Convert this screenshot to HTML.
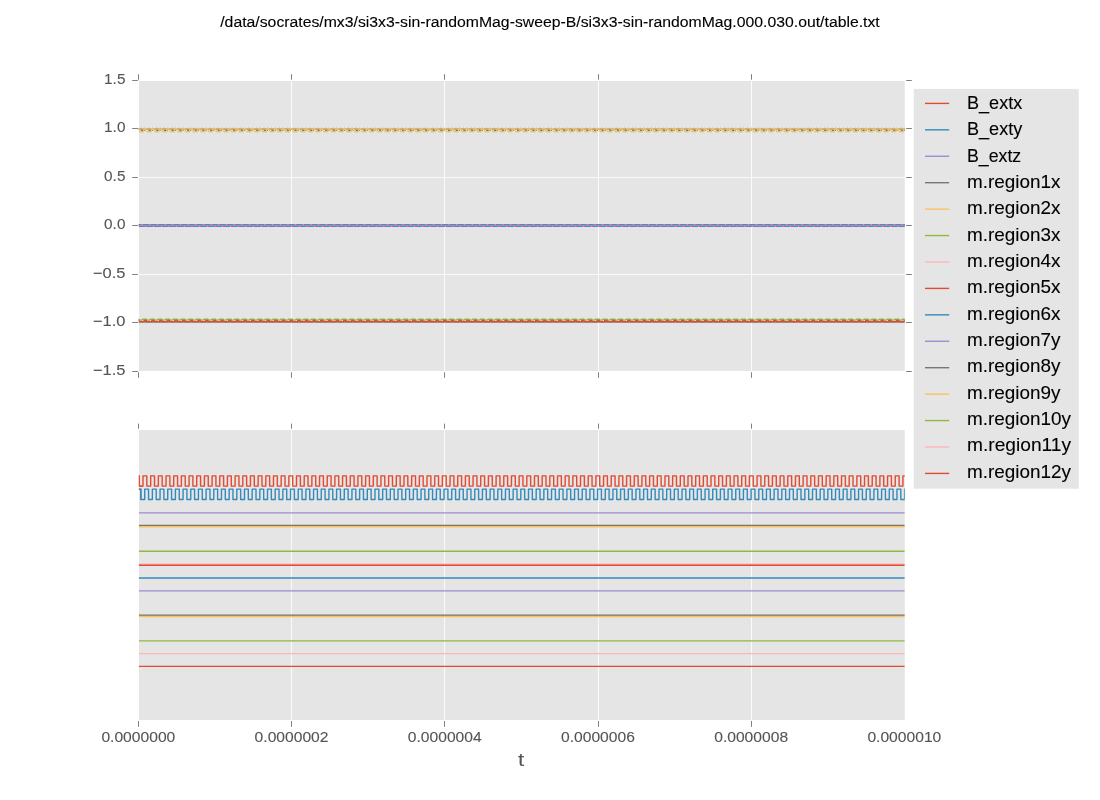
<!DOCTYPE html>
<html><head><meta charset="utf-8"><style>
html,body{margin:0;padding:0;background:#fff;width:1100px;height:800px;overflow:hidden}
svg{display:block;font-family:"Liberation Sans", sans-serif;will-change:transform}
</style></head><body>
<svg width="1100" height="800" viewBox="0 0 1100 800">
<defs>
<clipPath id="clipTop"><rect x="138.75" y="81.0" width="766.0" height="289.9"/></clipPath>
<clipPath id="clipBot"><rect x="138.75" y="430.0" width="766.0" height="290.0"/></clipPath>
</defs>
<rect x="0" y="0" width="1100" height="800" fill="#fff"/>
<text x="550.00" y="26.75" font-size="14.44" text-anchor="middle" fill="#000" textLength="659.52" lengthAdjust="spacingAndGlyphs" stroke="#000" stroke-width="0.1">/data/socrates/mx3/si3x3-sin-randomMag-sweep-B/si3x3-sin-randomMag.000.030.out/table.txt</text>
<rect x="139" y="81.00" width="765.75" height="289.90" fill="#E5E5E5"/>
<line x1="291.5" y1="81.0" x2="291.5" y2="370.9" stroke="#fff" stroke-width="0.8"/>
<line x1="444.5" y1="81.0" x2="444.5" y2="370.9" stroke="#fff" stroke-width="0.8"/>
<line x1="598.5" y1="81.0" x2="598.5" y2="370.9" stroke="#fff" stroke-width="0.8"/>
<line x1="751.5" y1="81.0" x2="751.5" y2="370.9" stroke="#fff" stroke-width="0.8"/>
<line x1="138.75" y1="128.5" x2="904.75" y2="128.5" stroke="#fff" stroke-width="0.8"/>
<line x1="138.75" y1="177.5" x2="904.75" y2="177.5" stroke="#fff" stroke-width="0.8"/>
<line x1="138.75" y1="225.5" x2="904.75" y2="225.5" stroke="#fff" stroke-width="0.8"/>
<line x1="138.75" y1="274.5" x2="904.75" y2="274.5" stroke="#fff" stroke-width="0.8"/>
<line x1="138.75" y1="322.5" x2="904.75" y2="322.5" stroke="#fff" stroke-width="0.8"/>
<g clip-path="url(#clipTop)">
<polyline points="119.97,226.40 119.97,224.60 123.81,224.60 123.81,226.40 127.65,226.40 127.65,224.60 131.49,224.60 131.49,226.40 135.32,226.40 135.32,224.60 139.16,224.60 139.16,226.40 143.00,226.40 143.00,224.60 146.84,224.60 146.84,226.40 150.68,226.40 150.68,224.60 154.51,224.60 154.51,226.40 158.35,226.40 158.35,224.60 162.19,224.60 162.19,226.40 166.03,226.40 166.03,224.60 169.87,224.60 169.87,226.40 173.70,226.40 173.70,224.60 177.54,224.60 177.54,226.40 181.38,226.40 181.38,224.60 185.22,224.60 185.22,226.40 189.06,226.40 189.06,224.60 192.89,224.60 192.89,226.40 196.73,226.40 196.73,224.60 200.57,224.60 200.57,226.40 204.41,226.40 204.41,224.60 208.25,224.60 208.25,226.40 212.08,226.40 212.08,224.60 215.92,224.60 215.92,226.40 219.76,226.40 219.76,224.60 223.60,224.60 223.60,226.40 227.44,226.40 227.44,224.60 231.27,224.60 231.27,226.40 235.11,226.40 235.11,224.60 238.95,224.60 238.95,226.40 242.79,226.40 242.79,224.60 246.63,224.60 246.63,226.40 250.46,226.40 250.46,224.60 254.30,224.60 254.30,226.40 258.14,226.40 258.14,224.60 261.98,224.60 261.98,226.40 265.82,226.40 265.82,224.60 269.65,224.60 269.65,226.40 273.49,226.40 273.49,224.60 277.33,224.60 277.33,226.40 281.17,226.40 281.17,224.60 285.01,224.60 285.01,226.40 288.84,226.40 288.84,224.60 292.68,224.60 292.68,226.40 296.52,226.40 296.52,224.60 300.36,224.60 300.36,226.40 304.20,226.40 304.20,224.60 308.03,224.60 308.03,226.40 311.87,226.40 311.87,224.60 315.71,224.60 315.71,226.40 319.55,226.40 319.55,224.60 323.39,224.60 323.39,226.40 327.22,226.40 327.22,224.60 331.06,224.60 331.06,226.40 334.90,226.40 334.90,224.60 338.74,224.60 338.74,226.40 342.58,226.40 342.58,224.60 346.41,224.60 346.41,226.40 350.25,226.40 350.25,224.60 354.09,224.60 354.09,226.40 357.93,226.40 357.93,224.60 361.77,224.60 361.77,226.40 365.60,226.40 365.60,224.60 369.44,224.60 369.44,226.40 373.28,226.40 373.28,224.60 377.12,224.60 377.12,226.40 380.96,226.40 380.96,224.60 384.79,224.60 384.79,226.40 388.63,226.40 388.63,224.60 392.47,224.60 392.47,226.40 396.31,226.40 396.31,224.60 400.15,224.60 400.15,226.40 403.98,226.40 403.98,224.60 407.82,224.60 407.82,226.40 411.66,226.40 411.66,224.60 415.50,224.60 415.50,226.40 419.34,226.40 419.34,224.60 423.17,224.60 423.17,226.40 427.01,226.40 427.01,224.60 430.85,224.60 430.85,226.40 434.69,226.40 434.69,224.60 438.53,224.60 438.53,226.40 442.36,226.40 442.36,224.60 446.20,224.60 446.20,226.40 450.04,226.40 450.04,224.60 453.88,224.60 453.88,226.40 457.72,226.40 457.72,224.60 461.55,224.60 461.55,226.40 465.39,226.40 465.39,224.60 469.23,224.60 469.23,226.40 473.07,226.40 473.07,224.60 476.91,224.60 476.91,226.40 480.74,226.40 480.74,224.60 484.58,224.60 484.58,226.40 488.42,226.40 488.42,224.60 492.26,224.60 492.26,226.40 496.10,226.40 496.10,224.60 499.93,224.60 499.93,226.40 503.77,226.40 503.77,224.60 507.61,224.60 507.61,226.40 511.45,226.40 511.45,224.60 515.29,224.60 515.29,226.40 519.12,226.40 519.12,224.60 522.96,224.60 522.96,226.40 526.80,226.40 526.80,224.60 530.64,224.60 530.64,226.40 534.48,226.40 534.48,224.60 538.31,224.60 538.31,226.40 542.15,226.40 542.15,224.60 545.99,224.60 545.99,226.40 549.83,226.40 549.83,224.60 553.67,224.60 553.67,226.40 557.50,226.40 557.50,224.60 561.34,224.60 561.34,226.40 565.18,226.40 565.18,224.60 569.02,224.60 569.02,226.40 572.86,226.40 572.86,224.60 576.69,224.60 576.69,226.40 580.53,226.40 580.53,224.60 584.37,224.60 584.37,226.40 588.21,226.40 588.21,224.60 592.05,224.60 592.05,226.40 595.88,226.40 595.88,224.60 599.72,224.60 599.72,226.40 603.56,226.40 603.56,224.60 607.40,224.60 607.40,226.40 611.24,226.40 611.24,224.60 615.07,224.60 615.07,226.40 618.91,226.40 618.91,224.60 622.75,224.60 622.75,226.40 626.59,226.40 626.59,224.60 630.43,224.60 630.43,226.40 634.26,226.40 634.26,224.60 638.10,224.60 638.10,226.40 641.94,226.40 641.94,224.60 645.78,224.60 645.78,226.40 649.62,226.40 649.62,224.60 653.45,224.60 653.45,226.40 657.29,226.40 657.29,224.60 661.13,224.60 661.13,226.40 664.97,226.40 664.97,224.60 668.81,224.60 668.81,226.40 672.64,226.40 672.64,224.60 676.48,224.60 676.48,226.40 680.32,226.40 680.32,224.60 684.16,224.60 684.16,226.40 688.00,226.40 688.00,224.60 691.83,224.60 691.83,226.40 695.67,226.40 695.67,224.60 699.51,224.60 699.51,226.40 703.35,226.40 703.35,224.60 707.19,224.60 707.19,226.40 711.02,226.40 711.02,224.60 714.86,224.60 714.86,226.40 718.70,226.40 718.70,224.60 722.54,224.60 722.54,226.40 726.38,226.40 726.38,224.60 730.21,224.60 730.21,226.40 734.05,226.40 734.05,224.60 737.89,224.60 737.89,226.40 741.73,226.40 741.73,224.60 745.57,224.60 745.57,226.40 749.40,226.40 749.40,224.60 753.24,224.60 753.24,226.40 757.08,226.40 757.08,224.60 760.92,224.60 760.92,226.40 764.76,226.40 764.76,224.60 768.59,224.60 768.59,226.40 772.43,226.40 772.43,224.60 776.27,224.60 776.27,226.40 780.11,226.40 780.11,224.60 783.95,224.60 783.95,226.40 787.78,226.40 787.78,224.60 791.62,224.60 791.62,226.40 795.46,226.40 795.46,224.60 799.30,224.60 799.30,226.40 803.14,226.40 803.14,224.60 806.97,224.60 806.97,226.40 810.81,226.40 810.81,224.60 814.65,224.60 814.65,226.40 818.49,226.40 818.49,224.60 822.33,224.60 822.33,226.40 826.16,226.40 826.16,224.60 830.00,224.60 830.00,226.40 833.84,226.40 833.84,224.60 837.68,224.60 837.68,226.40 841.52,226.40 841.52,224.60 845.35,224.60 845.35,226.40 849.19,226.40 849.19,224.60 853.03,224.60 853.03,226.40 856.87,226.40 856.87,224.60 860.71,224.60 860.71,226.40 864.54,226.40 864.54,224.60 868.38,224.60 868.38,226.40 872.22,226.40 872.22,224.60 876.06,224.60 876.06,226.40 879.90,226.40 879.90,224.60 883.73,224.60 883.73,226.40 887.57,226.40 887.57,224.60 891.41,224.60 891.41,226.40 895.25,226.40 895.25,224.60 899.09,224.60 899.09,226.40 902.92,226.40 902.92,224.60 906.76,224.60 906.76,226.40 910.60,226.40 910.60,224.60 914.44,224.60 914.44,226.40" fill="none" stroke="#E24A33" stroke-width="1.4" stroke-linejoin="round"/>
<polyline points="122.04,226.40 122.04,224.60 125.88,224.60 125.88,226.40 129.72,226.40 129.72,224.60 133.56,224.60 133.56,226.40 137.40,226.40 137.40,224.60 141.23,224.60 141.23,226.40 145.07,226.40 145.07,224.60 148.91,224.60 148.91,226.40 152.75,226.40 152.75,224.60 156.59,224.60 156.59,226.40 160.42,226.40 160.42,224.60 164.26,224.60 164.26,226.40 168.10,226.40 168.10,224.60 171.94,224.60 171.94,226.40 175.78,226.40 175.78,224.60 179.61,224.60 179.61,226.40 183.45,226.40 183.45,224.60 187.29,224.60 187.29,226.40 191.13,226.40 191.13,224.60 194.97,224.60 194.97,226.40 198.80,226.40 198.80,224.60 202.64,224.60 202.64,226.40 206.48,226.40 206.48,224.60 210.32,224.60 210.32,226.40 214.16,226.40 214.16,224.60 217.99,224.60 217.99,226.40 221.83,226.40 221.83,224.60 225.67,224.60 225.67,226.40 229.51,226.40 229.51,224.60 233.35,224.60 233.35,226.40 237.18,226.40 237.18,224.60 241.02,224.60 241.02,226.40 244.86,226.40 244.86,224.60 248.70,224.60 248.70,226.40 252.54,226.40 252.54,224.60 256.37,224.60 256.37,226.40 260.21,226.40 260.21,224.60 264.05,224.60 264.05,226.40 267.89,226.40 267.89,224.60 271.73,224.60 271.73,226.40 275.56,226.40 275.56,224.60 279.40,224.60 279.40,226.40 283.24,226.40 283.24,224.60 287.08,224.60 287.08,226.40 290.92,226.40 290.92,224.60 294.75,224.60 294.75,226.40 298.59,226.40 298.59,224.60 302.43,224.60 302.43,226.40 306.27,226.40 306.27,224.60 310.11,224.60 310.11,226.40 313.94,226.40 313.94,224.60 317.78,224.60 317.78,226.40 321.62,226.40 321.62,224.60 325.46,224.60 325.46,226.40 329.30,226.40 329.30,224.60 333.13,224.60 333.13,226.40 336.97,226.40 336.97,224.60 340.81,224.60 340.81,226.40 344.65,226.40 344.65,224.60 348.49,224.60 348.49,226.40 352.32,226.40 352.32,224.60 356.16,224.60 356.16,226.40 360.00,226.40 360.00,224.60 363.84,224.60 363.84,226.40 367.68,226.40 367.68,224.60 371.51,224.60 371.51,226.40 375.35,226.40 375.35,224.60 379.19,224.60 379.19,226.40 383.03,226.40 383.03,224.60 386.87,224.60 386.87,226.40 390.70,226.40 390.70,224.60 394.54,224.60 394.54,226.40 398.38,226.40 398.38,224.60 402.22,224.60 402.22,226.40 406.06,226.40 406.06,224.60 409.89,224.60 409.89,226.40 413.73,226.40 413.73,224.60 417.57,224.60 417.57,226.40 421.41,226.40 421.41,224.60 425.25,224.60 425.25,226.40 429.08,226.40 429.08,224.60 432.92,224.60 432.92,226.40 436.76,226.40 436.76,224.60 440.60,224.60 440.60,226.40 444.44,226.40 444.44,224.60 448.27,224.60 448.27,226.40 452.11,226.40 452.11,224.60 455.95,224.60 455.95,226.40 459.79,226.40 459.79,224.60 463.63,224.60 463.63,226.40 467.46,226.40 467.46,224.60 471.30,224.60 471.30,226.40 475.14,226.40 475.14,224.60 478.98,224.60 478.98,226.40 482.82,226.40 482.82,224.60 486.65,224.60 486.65,226.40 490.49,226.40 490.49,224.60 494.33,224.60 494.33,226.40 498.17,226.40 498.17,224.60 502.01,224.60 502.01,226.40 505.84,226.40 505.84,224.60 509.68,224.60 509.68,226.40 513.52,226.40 513.52,224.60 517.36,224.60 517.36,226.40 521.20,226.40 521.20,224.60 525.03,224.60 525.03,226.40 528.87,226.40 528.87,224.60 532.71,224.60 532.71,226.40 536.55,226.40 536.55,224.60 540.39,224.60 540.39,226.40 544.22,226.40 544.22,224.60 548.06,224.60 548.06,226.40 551.90,226.40 551.90,224.60 555.74,224.60 555.74,226.40 559.58,226.40 559.58,224.60 563.41,224.60 563.41,226.40 567.25,226.40 567.25,224.60 571.09,224.60 571.09,226.40 574.93,226.40 574.93,224.60 578.77,224.60 578.77,226.40 582.60,226.40 582.60,224.60 586.44,224.60 586.44,226.40 590.28,226.40 590.28,224.60 594.12,224.60 594.12,226.40 597.96,226.40 597.96,224.60 601.79,224.60 601.79,226.40 605.63,226.40 605.63,224.60 609.47,224.60 609.47,226.40 613.31,226.40 613.31,224.60 617.15,224.60 617.15,226.40 620.98,226.40 620.98,224.60 624.82,224.60 624.82,226.40 628.66,226.40 628.66,224.60 632.50,224.60 632.50,226.40 636.34,226.40 636.34,224.60 640.17,224.60 640.17,226.40 644.01,226.40 644.01,224.60 647.85,224.60 647.85,226.40 651.69,226.40 651.69,224.60 655.53,224.60 655.53,226.40 659.36,226.40 659.36,224.60 663.20,224.60 663.20,226.40 667.04,226.40 667.04,224.60 670.88,224.60 670.88,226.40 674.72,226.40 674.72,224.60 678.55,224.60 678.55,226.40 682.39,226.40 682.39,224.60 686.23,224.60 686.23,226.40 690.07,226.40 690.07,224.60 693.91,224.60 693.91,226.40 697.74,226.40 697.74,224.60 701.58,224.60 701.58,226.40 705.42,226.40 705.42,224.60 709.26,224.60 709.26,226.40 713.10,226.40 713.10,224.60 716.93,224.60 716.93,226.40 720.77,226.40 720.77,224.60 724.61,224.60 724.61,226.40 728.45,226.40 728.45,224.60 732.29,224.60 732.29,226.40 736.12,226.40 736.12,224.60 739.96,224.60 739.96,226.40 743.80,226.40 743.80,224.60 747.64,224.60 747.64,226.40 751.48,226.40 751.48,224.60 755.31,224.60 755.31,226.40 759.15,226.40 759.15,224.60 762.99,224.60 762.99,226.40 766.83,226.40 766.83,224.60 770.67,224.60 770.67,226.40 774.50,226.40 774.50,224.60 778.34,224.60 778.34,226.40 782.18,226.40 782.18,224.60 786.02,224.60 786.02,226.40 789.86,226.40 789.86,224.60 793.69,224.60 793.69,226.40 797.53,226.40 797.53,224.60 801.37,224.60 801.37,226.40 805.21,226.40 805.21,224.60 809.05,224.60 809.05,226.40 812.88,226.40 812.88,224.60 816.72,224.60 816.72,226.40 820.56,226.40 820.56,224.60 824.40,224.60 824.40,226.40 828.24,226.40 828.24,224.60 832.07,224.60 832.07,226.40 835.91,226.40 835.91,224.60 839.75,224.60 839.75,226.40 843.59,226.40 843.59,224.60 847.43,224.60 847.43,226.40 851.26,226.40 851.26,224.60 855.10,224.60 855.10,226.40 858.94,226.40 858.94,224.60 862.78,224.60 862.78,226.40 866.62,226.40 866.62,224.60 870.45,224.60 870.45,226.40 874.29,226.40 874.29,224.60 878.13,224.60 878.13,226.40 881.97,226.40 881.97,224.60 885.81,224.60 885.81,226.40 889.64,226.40 889.64,224.60 893.48,224.60 893.48,226.40 897.32,226.40 897.32,224.60 901.16,224.60 901.16,226.40 905.00,226.40 905.00,224.60 908.83,224.60 908.83,226.40 912.67,226.40 912.67,224.60 916.51,224.60 916.51,226.40" fill="none" stroke="#348ABD" stroke-width="1.4" stroke-linejoin="round"/>
<line x1="138.75" y1="225.5" x2="904.75" y2="225.5" stroke="#988ED5" stroke-width="1.4"/>
<polyline points="121.35,128.90 121.35,128.10 122.12,128.10 122.12,128.90 125.50,128.90 125.50,128.10 126.27,128.10 126.27,128.90 129.03,128.90 129.03,128.10 129.80,128.10 129.80,128.90 133.17,128.90 133.17,128.10 133.94,128.10 133.94,128.90 136.71,128.90 136.71,128.10 137.47,128.10 137.47,128.90 140.85,128.90 140.85,128.10 141.62,128.10 141.62,128.90 144.38,128.90 144.38,128.10 145.15,128.10 145.15,128.90 148.53,128.90 148.53,128.10 149.29,128.10 149.29,128.90 152.06,128.90 152.06,128.10 152.83,128.10 152.83,128.90 156.20,128.90 156.20,128.10 156.97,128.10 156.97,128.90 159.73,128.90 159.73,128.10 160.50,128.10 160.50,128.90 163.88,128.90 163.88,128.10 164.65,128.10 164.65,128.90 167.41,128.90 167.41,128.10 168.18,128.10 168.18,128.90 171.55,128.90 171.55,128.10 172.32,128.10 172.32,128.90 175.09,128.90 175.09,128.10 175.85,128.10 175.85,128.90 179.23,128.90 179.23,128.10 180.00,128.10 180.00,128.90 182.76,128.90 182.76,128.10 183.53,128.10 183.53,128.90 186.91,128.90 186.91,128.10 187.67,128.10 187.67,128.90 190.44,128.90 190.44,128.10 191.21,128.10 191.21,128.90 194.58,128.90 194.58,128.10 195.35,128.10 195.35,128.90 198.11,128.90 198.11,128.10 198.88,128.10 198.88,128.90 202.26,128.90 202.26,128.10 203.03,128.10 203.03,128.90 205.79,128.90 205.79,128.10 206.56,128.10 206.56,128.90 209.93,128.90 209.93,128.10 210.70,128.10 210.70,128.90 213.47,128.90 213.47,128.10 214.23,128.10 214.23,128.90 217.61,128.90 217.61,128.10 218.38,128.10 218.38,128.90 221.14,128.90 221.14,128.10 221.91,128.10 221.91,128.90 225.29,128.90 225.29,128.10 226.05,128.10 226.05,128.90 228.82,128.90 228.82,128.10 229.59,128.10 229.59,128.90 232.96,128.90 232.96,128.10 233.73,128.10 233.73,128.90 236.49,128.90 236.49,128.10 237.26,128.10 237.26,128.90 240.64,128.90 240.64,128.10 241.41,128.10 241.41,128.90 244.17,128.90 244.17,128.10 244.94,128.10 244.94,128.90 248.31,128.90 248.31,128.10 249.08,128.10 249.08,128.90 251.85,128.90 251.85,128.10 252.61,128.10 252.61,128.90 255.99,128.90 255.99,128.10 256.76,128.10 256.76,128.90 259.52,128.90 259.52,128.10 260.29,128.10 260.29,128.90 263.67,128.90 263.67,128.10 264.43,128.10 264.43,128.90 267.20,128.90 267.20,128.10 267.97,128.10 267.97,128.90 271.34,128.90 271.34,128.10 272.11,128.10 272.11,128.90 274.87,128.90 274.87,128.10 275.64,128.10 275.64,128.90 279.02,128.90 279.02,128.10 279.79,128.10 279.79,128.90 282.55,128.90 282.55,128.10 283.32,128.10 283.32,128.90 286.69,128.90 286.69,128.10 287.46,128.10 287.46,128.90 290.23,128.90 290.23,128.10 290.99,128.10 290.99,128.90 294.37,128.90 294.37,128.10 295.14,128.10 295.14,128.90 297.90,128.90 297.90,128.10 298.67,128.10 298.67,128.90 302.05,128.90 302.05,128.10 302.81,128.10 302.81,128.90 305.58,128.90 305.58,128.10 306.35,128.10 306.35,128.90 309.72,128.90 309.72,128.10 310.49,128.10 310.49,128.90 313.25,128.90 313.25,128.10 314.02,128.10 314.02,128.90 317.40,128.90 317.40,128.10 318.17,128.10 318.17,128.90 320.93,128.90 320.93,128.10 321.70,128.10 321.70,128.90 325.07,128.90 325.07,128.10 325.84,128.10 325.84,128.90 328.61,128.90 328.61,128.10 329.37,128.10 329.37,128.90 332.75,128.90 332.75,128.10 333.52,128.10 333.52,128.90 336.28,128.90 336.28,128.10 337.05,128.10 337.05,128.90 340.43,128.90 340.43,128.10 341.19,128.10 341.19,128.90 343.96,128.90 343.96,128.10 344.73,128.10 344.73,128.90 348.10,128.90 348.10,128.10 348.87,128.10 348.87,128.90 351.63,128.90 351.63,128.10 352.40,128.10 352.40,128.90 355.78,128.90 355.78,128.10 356.55,128.10 356.55,128.90 359.31,128.90 359.31,128.10 360.08,128.10 360.08,128.90 363.45,128.90 363.45,128.10 364.22,128.10 364.22,128.90 366.99,128.90 366.99,128.10 367.75,128.10 367.75,128.90 371.13,128.90 371.13,128.10 371.90,128.10 371.90,128.90 374.66,128.90 374.66,128.10 375.43,128.10 375.43,128.90 378.81,128.90 378.81,128.10 379.57,128.10 379.57,128.90 382.34,128.90 382.34,128.10 383.11,128.10 383.11,128.90 386.48,128.90 386.48,128.10 387.25,128.10 387.25,128.90 390.01,128.90 390.01,128.10 390.78,128.10 390.78,128.90 394.16,128.90 394.16,128.10 394.93,128.10 394.93,128.90 397.69,128.90 397.69,128.10 398.46,128.10 398.46,128.90 401.83,128.90 401.83,128.10 402.60,128.10 402.60,128.90 405.37,128.90 405.37,128.10 406.13,128.10 406.13,128.90 409.51,128.90 409.51,128.10 410.28,128.10 410.28,128.90 413.04,128.90 413.04,128.10 413.81,128.10 413.81,128.90 417.19,128.90 417.19,128.10 417.95,128.10 417.95,128.90 420.72,128.90 420.72,128.10 421.49,128.10 421.49,128.90 424.86,128.90 424.86,128.10 425.63,128.10 425.63,128.90 428.39,128.90 428.39,128.10 429.16,128.10 429.16,128.90 432.54,128.90 432.54,128.10 433.31,128.10 433.31,128.90 436.07,128.90 436.07,128.10 436.84,128.10 436.84,128.90 440.21,128.90 440.21,128.10 440.98,128.10 440.98,128.90 443.75,128.90 443.75,128.10 444.51,128.10 444.51,128.90 447.89,128.90 447.89,128.10 448.66,128.10 448.66,128.90 451.42,128.90 451.42,128.10 452.19,128.10 452.19,128.90 455.57,128.90 455.57,128.10 456.33,128.10 456.33,128.90 459.10,128.90 459.10,128.10 459.87,128.10 459.87,128.90 463.24,128.90 463.24,128.10 464.01,128.10 464.01,128.90 466.77,128.90 466.77,128.10 467.54,128.10 467.54,128.90 470.92,128.90 470.92,128.10 471.69,128.10 471.69,128.90 474.45,128.90 474.45,128.10 475.22,128.10 475.22,128.90 478.59,128.90 478.59,128.10 479.36,128.10 479.36,128.90 482.13,128.90 482.13,128.10 482.89,128.10 482.89,128.90 486.27,128.90 486.27,128.10 487.04,128.10 487.04,128.90 489.80,128.90 489.80,128.10 490.57,128.10 490.57,128.90 493.95,128.90 493.95,128.10 494.71,128.10 494.71,128.90 497.48,128.90 497.48,128.10 498.25,128.10 498.25,128.90 501.62,128.90 501.62,128.10 502.39,128.10 502.39,128.90 505.15,128.90 505.15,128.10 505.92,128.10 505.92,128.90 509.30,128.90 509.30,128.10 510.07,128.10 510.07,128.90 512.83,128.90 512.83,128.10 513.60,128.10 513.60,128.90 516.97,128.90 516.97,128.10 517.74,128.10 517.74,128.90 520.51,128.90 520.51,128.10 521.27,128.10 521.27,128.90 524.65,128.90 524.65,128.10 525.42,128.10 525.42,128.90 528.18,128.90 528.18,128.10 528.95,128.10 528.95,128.90 532.33,128.90 532.33,128.10 533.09,128.10 533.09,128.90 535.86,128.90 535.86,128.10 536.63,128.10 536.63,128.90 540.00,128.90 540.00,128.10 540.77,128.10 540.77,128.90 543.53,128.90 543.53,128.10 544.30,128.10 544.30,128.90 547.68,128.90 547.68,128.10 548.45,128.10 548.45,128.90 551.21,128.90 551.21,128.10 551.98,128.10 551.98,128.90 555.35,128.90 555.35,128.10 556.12,128.10 556.12,128.90 558.89,128.90 558.89,128.10 559.65,128.10 559.65,128.90 563.03,128.90 563.03,128.10 563.80,128.10 563.80,128.90 566.56,128.90 566.56,128.10 567.33,128.10 567.33,128.90 570.71,128.90 570.71,128.10 571.47,128.10 571.47,128.90 574.24,128.90 574.24,128.10 575.01,128.10 575.01,128.90 578.38,128.90 578.38,128.10 579.15,128.10 579.15,128.90 581.91,128.90 581.91,128.10 582.68,128.10 582.68,128.90 586.06,128.90 586.06,128.10 586.83,128.10 586.83,128.90 589.59,128.90 589.59,128.10 590.36,128.10 590.36,128.90 593.73,128.90 593.73,128.10 594.50,128.10 594.50,128.90 597.27,128.90 597.27,128.10 598.03,128.10 598.03,128.90 601.41,128.90 601.41,128.10 602.18,128.10 602.18,128.90 604.94,128.90 604.94,128.10 605.71,128.10 605.71,128.90 609.09,128.90 609.09,128.10 609.85,128.10 609.85,128.90 612.62,128.90 612.62,128.10 613.39,128.10 613.39,128.90 616.76,128.90 616.76,128.10 617.53,128.10 617.53,128.90 620.29,128.90 620.29,128.10 621.06,128.10 621.06,128.90 624.44,128.90 624.44,128.10 625.21,128.10 625.21,128.90 627.97,128.90 627.97,128.10 628.74,128.10 628.74,128.90 632.11,128.90 632.11,128.10 632.88,128.10 632.88,128.90 635.65,128.90 635.65,128.10 636.41,128.10 636.41,128.90 639.79,128.90 639.79,128.10 640.56,128.10 640.56,128.90 643.32,128.90 643.32,128.10 644.09,128.10 644.09,128.90 647.47,128.90 647.47,128.10 648.23,128.10 648.23,128.90 651.00,128.90 651.00,128.10 651.77,128.10 651.77,128.90 655.14,128.90 655.14,128.10 655.91,128.10 655.91,128.90 658.67,128.90 658.67,128.10 659.44,128.10 659.44,128.90 662.82,128.90 662.82,128.10 663.59,128.10 663.59,128.90 666.35,128.90 666.35,128.10 667.12,128.10 667.12,128.90 670.49,128.90 670.49,128.10 671.26,128.10 671.26,128.90 674.03,128.90 674.03,128.10 674.79,128.10 674.79,128.90 678.17,128.90 678.17,128.10 678.94,128.10 678.94,128.90 681.70,128.90 681.70,128.10 682.47,128.10 682.47,128.90 685.85,128.90 685.85,128.10 686.61,128.10 686.61,128.90 689.38,128.90 689.38,128.10 690.15,128.10 690.15,128.90 693.52,128.90 693.52,128.10 694.29,128.10 694.29,128.90 697.05,128.90 697.05,128.10 697.82,128.10 697.82,128.90 701.20,128.90 701.20,128.10 701.97,128.10 701.97,128.90 704.73,128.90 704.73,128.10 705.50,128.10 705.50,128.90 708.87,128.90 708.87,128.10 709.64,128.10 709.64,128.90 712.41,128.90 712.41,128.10 713.17,128.10 713.17,128.90 716.55,128.90 716.55,128.10 717.32,128.10 717.32,128.90 720.08,128.90 720.08,128.10 720.85,128.10 720.85,128.90 724.23,128.90 724.23,128.10 724.99,128.10 724.99,128.90 727.76,128.90 727.76,128.10 728.53,128.10 728.53,128.90 731.90,128.90 731.90,128.10 732.67,128.10 732.67,128.90 735.43,128.90 735.43,128.10 736.20,128.10 736.20,128.90 739.58,128.90 739.58,128.10 740.35,128.10 740.35,128.90 743.11,128.90 743.11,128.10 743.88,128.10 743.88,128.90 747.25,128.90 747.25,128.10 748.02,128.10 748.02,128.90 750.79,128.90 750.79,128.10 751.55,128.10 751.55,128.90 754.93,128.90 754.93,128.10 755.70,128.10 755.70,128.90 758.46,128.90 758.46,128.10 759.23,128.10 759.23,128.90 762.61,128.90 762.61,128.10 763.37,128.10 763.37,128.90 766.14,128.90 766.14,128.10 766.91,128.10 766.91,128.90 770.28,128.90 770.28,128.10 771.05,128.10 771.05,128.90 773.81,128.90 773.81,128.10 774.58,128.10 774.58,128.90 777.96,128.90 777.96,128.10 778.73,128.10 778.73,128.90 781.49,128.90 781.49,128.10 782.26,128.10 782.26,128.90 785.63,128.90 785.63,128.10 786.40,128.10 786.40,128.90 789.17,128.90 789.17,128.10 789.93,128.10 789.93,128.90 793.31,128.90 793.31,128.10 794.08,128.10 794.08,128.90 796.84,128.90 796.84,128.10 797.61,128.10 797.61,128.90 800.99,128.90 800.99,128.10 801.75,128.10 801.75,128.90 804.52,128.90 804.52,128.10 805.29,128.10 805.29,128.90 808.66,128.90 808.66,128.10 809.43,128.10 809.43,128.90 812.19,128.90 812.19,128.10 812.96,128.10 812.96,128.90 816.34,128.90 816.34,128.10 817.11,128.10 817.11,128.90 819.87,128.90 819.87,128.10 820.64,128.10 820.64,128.90 824.01,128.90 824.01,128.10 824.78,128.10 824.78,128.90 827.55,128.90 827.55,128.10 828.31,128.10 828.31,128.90 831.69,128.90 831.69,128.10 832.46,128.10 832.46,128.90 835.22,128.90 835.22,128.10 835.99,128.10 835.99,128.90 839.37,128.90 839.37,128.10 840.13,128.10 840.13,128.90 842.90,128.90 842.90,128.10 843.67,128.10 843.67,128.90 847.04,128.90 847.04,128.10 847.81,128.10 847.81,128.90 850.57,128.90 850.57,128.10 851.34,128.10 851.34,128.90 854.72,128.90 854.72,128.10 855.49,128.10 855.49,128.90 858.25,128.90 858.25,128.10 859.02,128.10 859.02,128.90 862.39,128.90 862.39,128.10 863.16,128.10 863.16,128.90 865.93,128.90 865.93,128.10 866.69,128.10 866.69,128.90 870.07,128.90 870.07,128.10 870.84,128.10 870.84,128.90 873.60,128.90 873.60,128.10 874.37,128.10 874.37,128.90 877.75,128.90 877.75,128.10 878.51,128.10 878.51,128.90 881.28,128.90 881.28,128.10 882.05,128.10 882.05,128.90 885.42,128.90 885.42,128.10 886.19,128.10 886.19,128.90 888.95,128.90 888.95,128.10 889.72,128.10 889.72,128.90 893.10,128.90 893.10,128.10 893.87,128.10 893.87,128.90 896.63,128.90 896.63,128.10 897.40,128.10 897.40,128.90 900.77,128.90 900.77,128.10 901.54,128.10 901.54,128.90 904.31,128.90 904.31,128.10 905.07,128.10 905.07,128.90 908.45,128.90 908.45,128.10 909.22,128.10 909.22,128.90 911.98,128.90 911.98,128.10 912.75,128.10 912.75,128.90 916.13,128.90 916.13,128.10 916.89,128.10 916.89,128.90" fill="none" stroke="#988ED5" stroke-width="1.0" stroke-linejoin="round"/>
<polyline points="123.43,128.90 123.43,129.60 124.35,129.60 124.35,128.90 131.10,128.90 131.10,129.60 132.02,129.60 132.02,128.90 138.78,128.90 138.78,129.60 139.70,129.60 139.70,128.90 146.45,128.90 146.45,129.60 147.38,129.60 147.38,128.90 154.13,128.90 154.13,129.60 155.05,129.60 155.05,128.90 161.81,128.90 161.81,129.60 162.73,129.60 162.73,128.90 169.48,128.90 169.48,129.60 170.40,129.60 170.40,128.90 177.16,128.90 177.16,129.60 178.08,129.60 178.08,128.90 184.83,128.90 184.83,129.60 185.76,129.60 185.76,128.90 192.51,128.90 192.51,129.60 193.43,129.60 193.43,128.90 200.19,128.90 200.19,129.60 201.11,129.60 201.11,128.90 207.86,128.90 207.86,129.60 208.78,129.60 208.78,128.90 215.54,128.90 215.54,129.60 216.46,129.60 216.46,128.90 223.21,128.90 223.21,129.60 224.14,129.60 224.14,128.90 230.89,128.90 230.89,129.60 231.81,129.60 231.81,128.90 238.57,128.90 238.57,129.60 239.49,129.60 239.49,128.90 246.24,128.90 246.24,129.60 247.16,129.60 247.16,128.90 253.92,128.90 253.92,129.60 254.84,129.60 254.84,128.90 261.59,128.90 261.59,129.60 262.52,129.60 262.52,128.90 269.27,128.90 269.27,129.60 270.19,129.60 270.19,128.90 276.95,128.90 276.95,129.60 277.87,129.60 277.87,128.90 284.62,128.90 284.62,129.60 285.54,129.60 285.54,128.90 292.30,128.90 292.30,129.60 293.22,129.60 293.22,128.90 299.97,128.90 299.97,129.60 300.90,129.60 300.90,128.90 307.65,128.90 307.65,129.60 308.57,129.60 308.57,128.90 315.33,128.90 315.33,129.60 316.25,129.60 316.25,128.90 323.00,128.90 323.00,129.60 323.92,129.60 323.92,128.90 330.68,128.90 330.68,129.60 331.60,129.60 331.60,128.90 338.35,128.90 338.35,129.60 339.28,129.60 339.28,128.90 346.03,128.90 346.03,129.60 346.95,129.60 346.95,128.90 353.71,128.90 353.71,129.60 354.63,129.60 354.63,128.90 361.38,128.90 361.38,129.60 362.30,129.60 362.30,128.90 369.06,128.90 369.06,129.60 369.98,129.60 369.98,128.90 376.73,128.90 376.73,129.60 377.66,129.60 377.66,128.90 384.41,128.90 384.41,129.60 385.33,129.60 385.33,128.90 392.09,128.90 392.09,129.60 393.01,129.60 393.01,128.90 399.76,128.90 399.76,129.60 400.68,129.60 400.68,128.90 407.44,128.90 407.44,129.60 408.36,129.60 408.36,128.90 415.11,128.90 415.11,129.60 416.04,129.60 416.04,128.90 422.79,128.90 422.79,129.60 423.71,129.60 423.71,128.90 430.47,128.90 430.47,129.60 431.39,129.60 431.39,128.90 438.14,128.90 438.14,129.60 439.06,129.60 439.06,128.90 445.82,128.90 445.82,129.60 446.74,129.60 446.74,128.90 453.49,128.90 453.49,129.60 454.42,129.60 454.42,128.90 461.17,128.90 461.17,129.60 462.09,129.60 462.09,128.90 468.85,128.90 468.85,129.60 469.77,129.60 469.77,128.90 476.52,128.90 476.52,129.60 477.44,129.60 477.44,128.90 484.20,128.90 484.20,129.60 485.12,129.60 485.12,128.90 491.87,128.90 491.87,129.60 492.80,129.60 492.80,128.90 499.55,128.90 499.55,129.60 500.47,129.60 500.47,128.90 507.23,128.90 507.23,129.60 508.15,129.60 508.15,128.90 514.90,128.90 514.90,129.60 515.82,129.60 515.82,128.90 522.58,128.90 522.58,129.60 523.50,129.60 523.50,128.90 530.25,128.90 530.25,129.60 531.18,129.60 531.18,128.90 537.93,128.90 537.93,129.60 538.85,129.60 538.85,128.90 545.61,128.90 545.61,129.60 546.53,129.60 546.53,128.90 553.28,128.90 553.28,129.60 554.20,129.60 554.20,128.90 560.96,128.90 560.96,129.60 561.88,129.60 561.88,128.90 568.63,128.90 568.63,129.60 569.56,129.60 569.56,128.90 576.31,128.90 576.31,129.60 577.23,129.60 577.23,128.90 583.99,128.90 583.99,129.60 584.91,129.60 584.91,128.90 591.66,128.90 591.66,129.60 592.58,129.60 592.58,128.90 599.34,128.90 599.34,129.60 600.26,129.60 600.26,128.90 607.01,128.90 607.01,129.60 607.94,129.60 607.94,128.90 614.69,128.90 614.69,129.60 615.61,129.60 615.61,128.90 622.37,128.90 622.37,129.60 623.29,129.60 623.29,128.90 630.04,128.90 630.04,129.60 630.96,129.60 630.96,128.90 637.72,128.90 637.72,129.60 638.64,129.60 638.64,128.90 645.39,128.90 645.39,129.60 646.32,129.60 646.32,128.90 653.07,128.90 653.07,129.60 653.99,129.60 653.99,128.90 660.75,128.90 660.75,129.60 661.67,129.60 661.67,128.90 668.42,128.90 668.42,129.60 669.34,129.60 669.34,128.90 676.10,128.90 676.10,129.60 677.02,129.60 677.02,128.90 683.77,128.90 683.77,129.60 684.70,129.60 684.70,128.90 691.45,128.90 691.45,129.60 692.37,129.60 692.37,128.90 699.13,128.90 699.13,129.60 700.05,129.60 700.05,128.90 706.80,128.90 706.80,129.60 707.72,129.60 707.72,128.90 714.48,128.90 714.48,129.60 715.40,129.60 715.40,128.90 722.15,128.90 722.15,129.60 723.08,129.60 723.08,128.90 729.83,128.90 729.83,129.60 730.75,129.60 730.75,128.90 737.51,128.90 737.51,129.60 738.43,129.60 738.43,128.90 745.18,128.90 745.18,129.60 746.10,129.60 746.10,128.90 752.86,128.90 752.86,129.60 753.78,129.60 753.78,128.90 760.53,128.90 760.53,129.60 761.46,129.60 761.46,128.90 768.21,128.90 768.21,129.60 769.13,129.60 769.13,128.90 775.89,128.90 775.89,129.60 776.81,129.60 776.81,128.90 783.56,128.90 783.56,129.60 784.48,129.60 784.48,128.90 791.24,128.90 791.24,129.60 792.16,129.60 792.16,128.90 798.91,128.90 798.91,129.60 799.84,129.60 799.84,128.90 806.59,128.90 806.59,129.60 807.51,129.60 807.51,128.90 814.27,128.90 814.27,129.60 815.19,129.60 815.19,128.90 821.94,128.90 821.94,129.60 822.86,129.60 822.86,128.90 829.62,128.90 829.62,129.60 830.54,129.60 830.54,128.90 837.29,128.90 837.29,129.60 838.22,129.60 838.22,128.90 844.97,128.90 844.97,129.60 845.89,129.60 845.89,128.90 852.65,128.90 852.65,129.60 853.57,129.60 853.57,128.90 860.32,128.90 860.32,129.60 861.24,129.60 861.24,128.90 868.00,128.90 868.00,129.60 868.92,129.60 868.92,128.90 875.67,128.90 875.67,129.60 876.60,129.60 876.60,128.90 883.35,128.90 883.35,129.60 884.27,129.60 884.27,128.90 891.03,128.90 891.03,129.60 891.95,129.60 891.95,128.90 898.70,128.90 898.70,129.60 899.62,129.60 899.62,128.90 906.38,128.90 906.38,129.60 907.30,129.60 907.30,128.90 914.05,128.90 914.05,129.60 914.98,129.60 914.98,128.90" fill="none" stroke="#777777" stroke-width="1.0" stroke-linejoin="round"/>
<polyline points="121.58,128.90 126.27,128.90 126.27,130.40 129.11,130.40 129.11,128.90 129.26,128.90 133.94,128.90 133.94,130.40 136.78,130.40 136.78,128.90 136.94,128.90 141.62,128.90 141.62,130.40 144.46,130.40 144.46,128.90 144.61,128.90 149.29,128.90 149.29,130.40 152.13,130.40 152.13,128.90 152.29,128.90 156.97,128.90 156.97,130.40 159.81,130.40 159.81,128.90 159.96,128.90 164.65,128.90 164.65,130.40 167.49,130.40 167.49,128.90 167.64,128.90 172.32,128.90 172.32,130.40 175.16,130.40 175.16,128.90 175.32,128.90 180.00,128.90 180.00,130.40 182.84,130.40 182.84,128.90 182.99,128.90 187.67,128.90 187.67,130.40 190.51,130.40 190.51,128.90 190.67,128.90 195.35,128.90 195.35,130.40 198.19,130.40 198.19,128.90 198.34,128.90 203.03,128.90 203.03,130.40 205.87,130.40 205.87,128.90 206.02,128.90 210.70,128.90 210.70,130.40 213.54,130.40 213.54,128.90 213.70,128.90 218.38,128.90 218.38,130.40 221.22,130.40 221.22,128.90 221.37,128.90 226.05,128.90 226.05,130.40 228.89,130.40 228.89,128.90 229.05,128.90 233.73,128.90 233.73,130.40 236.57,130.40 236.57,128.90 236.72,128.90 241.41,128.90 241.41,130.40 244.25,130.40 244.25,128.90 244.40,128.90 249.08,128.90 249.08,130.40 251.92,130.40 251.92,128.90 252.08,128.90 256.76,128.90 256.76,130.40 259.60,130.40 259.60,128.90 259.75,128.90 264.43,128.90 264.43,130.40 267.27,130.40 267.27,128.90 267.43,128.90 272.11,128.90 272.11,130.40 274.95,130.40 274.95,128.90 275.10,128.90 279.79,128.90 279.79,130.40 282.63,130.40 282.63,128.90 282.78,128.90 287.46,128.90 287.46,130.40 290.30,130.40 290.30,128.90 290.46,128.90 295.14,128.90 295.14,130.40 297.98,130.40 297.98,128.90 298.13,128.90 302.81,128.90 302.81,130.40 305.65,130.40 305.65,128.90 305.81,128.90 310.49,128.90 310.49,130.40 313.33,130.40 313.33,128.90 313.48,128.90 318.17,128.90 318.17,130.40 321.01,130.40 321.01,128.90 321.16,128.90 325.84,128.90 325.84,130.40 328.68,130.40 328.68,128.90 328.84,128.90 333.52,128.90 333.52,130.40 336.36,130.40 336.36,128.90 336.51,128.90 341.19,128.90 341.19,130.40 344.03,130.40 344.03,128.90 344.19,128.90 348.87,128.90 348.87,130.40 351.71,130.40 351.71,128.90 351.86,128.90 356.55,128.90 356.55,130.40 359.39,130.40 359.39,128.90 359.54,128.90 364.22,128.90 364.22,130.40 367.06,130.40 367.06,128.90 367.22,128.90 371.90,128.90 371.90,130.40 374.74,130.40 374.74,128.90 374.89,128.90 379.57,128.90 379.57,130.40 382.41,130.40 382.41,128.90 382.57,128.90 387.25,128.90 387.25,130.40 390.09,130.40 390.09,128.90 390.24,128.90 394.93,128.90 394.93,130.40 397.77,130.40 397.77,128.90 397.92,128.90 402.60,128.90 402.60,130.40 405.44,130.40 405.44,128.90 405.60,128.90 410.28,128.90 410.28,130.40 413.12,130.40 413.12,128.90 413.27,128.90 417.95,128.90 417.95,130.40 420.79,130.40 420.79,128.90 420.95,128.90 425.63,128.90 425.63,130.40 428.47,130.40 428.47,128.90 428.62,128.90 433.31,128.90 433.31,130.40 436.15,130.40 436.15,128.90 436.30,128.90 440.98,128.90 440.98,130.40 443.82,130.40 443.82,128.90 443.98,128.90 448.66,128.90 448.66,130.40 451.50,130.40 451.50,128.90 451.65,128.90 456.33,128.90 456.33,130.40 459.17,130.40 459.17,128.90 459.33,128.90 464.01,128.90 464.01,130.40 466.85,130.40 466.85,128.90 467.00,128.90 471.69,128.90 471.69,130.40 474.53,130.40 474.53,128.90 474.68,128.90 479.36,128.90 479.36,130.40 482.20,130.40 482.20,128.90 482.36,128.90 487.04,128.90 487.04,130.40 489.88,130.40 489.88,128.90 490.03,128.90 494.71,128.90 494.71,130.40 497.55,130.40 497.55,128.90 497.71,128.90 502.39,128.90 502.39,130.40 505.23,130.40 505.23,128.90 505.38,128.90 510.07,128.90 510.07,130.40 512.91,130.40 512.91,128.90 513.06,128.90 517.74,128.90 517.74,130.40 520.58,130.40 520.58,128.90 520.74,128.90 525.42,128.90 525.42,130.40 528.26,130.40 528.26,128.90 528.41,128.90 533.09,128.90 533.09,130.40 535.93,130.40 535.93,128.90 536.09,128.90 540.77,128.90 540.77,130.40 543.61,130.40 543.61,128.90 543.76,128.90 548.45,128.90 548.45,130.40 551.29,130.40 551.29,128.90 551.44,128.90 556.12,128.90 556.12,130.40 558.96,130.40 558.96,128.90 559.12,128.90 563.80,128.90 563.80,130.40 566.64,130.40 566.64,128.90 566.79,128.90 571.47,128.90 571.47,130.40 574.31,130.40 574.31,128.90 574.47,128.90 579.15,128.90 579.15,130.40 581.99,130.40 581.99,128.90 582.14,128.90 586.83,128.90 586.83,130.40 589.67,130.40 589.67,128.90 589.82,128.90 594.50,128.90 594.50,130.40 597.34,130.40 597.34,128.90 597.50,128.90 602.18,128.90 602.18,130.40 605.02,130.40 605.02,128.90 605.17,128.90 609.85,128.90 609.85,130.40 612.69,130.40 612.69,128.90 612.85,128.90 617.53,128.90 617.53,130.40 620.37,130.40 620.37,128.90 620.52,128.90 625.21,128.90 625.21,130.40 628.05,130.40 628.05,128.90 628.20,128.90 632.88,128.90 632.88,130.40 635.72,130.40 635.72,128.90 635.88,128.90 640.56,128.90 640.56,130.40 643.40,130.40 643.40,128.90 643.55,128.90 648.23,128.90 648.23,130.40 651.07,130.40 651.07,128.90 651.23,128.90 655.91,128.90 655.91,130.40 658.75,130.40 658.75,128.90 658.90,128.90 663.59,128.90 663.59,130.40 666.43,130.40 666.43,128.90 666.58,128.90 671.26,128.90 671.26,130.40 674.10,130.40 674.10,128.90 674.26,128.90 678.94,128.90 678.94,130.40 681.78,130.40 681.78,128.90 681.93,128.90 686.61,128.90 686.61,130.40 689.45,130.40 689.45,128.90 689.61,128.90 694.29,128.90 694.29,130.40 697.13,130.40 697.13,128.90 697.28,128.90 701.97,128.90 701.97,130.40 704.81,130.40 704.81,128.90 704.96,128.90 709.64,128.90 709.64,130.40 712.48,130.40 712.48,128.90 712.64,128.90 717.32,128.90 717.32,130.40 720.16,130.40 720.16,128.90 720.31,128.90 724.99,128.90 724.99,130.40 727.83,130.40 727.83,128.90 727.99,128.90 732.67,128.90 732.67,130.40 735.51,130.40 735.51,128.90 735.66,128.90 740.35,128.90 740.35,130.40 743.19,130.40 743.19,128.90 743.34,128.90 748.02,128.90 748.02,130.40 750.86,130.40 750.86,128.90 751.02,128.90 755.70,128.90 755.70,130.40 758.54,130.40 758.54,128.90 758.69,128.90 763.37,128.90 763.37,130.40 766.21,130.40 766.21,128.90 766.37,128.90 771.05,128.90 771.05,130.40 773.89,130.40 773.89,128.90 774.04,128.90 778.73,128.90 778.73,130.40 781.57,130.40 781.57,128.90 781.72,128.90 786.40,128.90 786.40,130.40 789.24,130.40 789.24,128.90 789.40,128.90 794.08,128.90 794.08,130.40 796.92,130.40 796.92,128.90 797.07,128.90 801.75,128.90 801.75,130.40 804.59,130.40 804.59,128.90 804.75,128.90 809.43,128.90 809.43,130.40 812.27,130.40 812.27,128.90 812.42,128.90 817.11,128.90 817.11,130.40 819.95,130.40 819.95,128.90 820.10,128.90 824.78,128.90 824.78,130.40 827.62,130.40 827.62,128.90 827.78,128.90 832.46,128.90 832.46,130.40 835.30,130.40 835.30,128.90 835.45,128.90 840.13,128.90 840.13,130.40 842.97,130.40 842.97,128.90 843.13,128.90 847.81,128.90 847.81,130.40 850.65,130.40 850.65,128.90 850.80,128.90 855.49,128.90 855.49,130.40 858.33,130.40 858.33,128.90 858.48,128.90 863.16,128.90 863.16,130.40 866.00,130.40 866.00,128.90 866.16,128.90 870.84,128.90 870.84,130.40 873.68,130.40 873.68,128.90 873.83,128.90 878.51,128.90 878.51,130.40 881.35,130.40 881.35,128.90 881.51,128.90 886.19,128.90 886.19,130.40 889.03,130.40 889.03,128.90 889.18,128.90 893.87,128.90 893.87,130.40 896.71,130.40 896.71,128.90 896.86,128.90 901.54,128.90 901.54,130.40 904.38,130.40 904.38,128.90 904.54,128.90 909.22,128.90 909.22,130.40 912.06,130.40 912.06,128.90 912.21,128.90 916.89,128.90 916.89,130.40 919.73,130.40 919.73,128.90" fill="none" stroke="#348ABD" stroke-width="1.4" stroke-linejoin="round"/>
<polyline points="121.20,128.90 123.20,128.90 124.27,131.70 128.03,131.70 128.88,128.90 130.87,128.90 131.95,131.70 135.71,131.70 136.55,128.90 138.55,128.90 139.62,131.70 143.38,131.70 144.23,128.90 146.22,128.90 147.30,131.70 151.06,131.70 151.90,128.90 153.90,128.90 154.97,131.70 158.74,131.70 159.58,128.90 161.58,128.90 162.65,131.70 166.41,131.70 167.26,128.90 169.25,128.90 170.33,131.70 174.09,131.70 174.93,128.90 176.93,128.90 178.00,131.70 181.76,131.70 182.61,128.90 184.60,128.90 185.68,131.70 189.44,131.70 190.28,128.90 192.28,128.90 193.35,131.70 197.12,131.70 197.96,128.90 199.96,128.90 201.03,131.70 204.79,131.70 205.64,128.90 207.63,128.90 208.71,131.70 212.47,131.70 213.31,128.90 215.31,128.90 216.38,131.70 220.14,131.70 220.99,128.90 222.98,128.90 224.06,131.70 227.82,131.70 228.66,128.90 230.66,128.90 231.73,131.70 235.50,131.70 236.34,128.90 238.34,128.90 239.41,131.70 243.17,131.70 244.02,128.90 246.01,128.90 247.09,131.70 250.85,131.70 251.69,128.90 253.69,128.90 254.76,131.70 258.52,131.70 259.37,128.90 261.36,128.90 262.44,131.70 266.20,131.70 267.04,128.90 269.04,128.90 270.11,131.70 273.88,131.70 274.72,128.90 276.72,128.90 277.79,131.70 281.55,131.70 282.40,128.90 284.39,128.90 285.47,131.70 289.23,131.70 290.07,128.90 292.07,128.90 293.14,131.70 296.90,131.70 297.75,128.90 299.74,128.90 300.82,131.70 304.58,131.70 305.42,128.90 307.42,128.90 308.49,131.70 312.26,131.70 313.10,128.90 315.10,128.90 316.17,131.70 319.93,131.70 320.78,128.90 322.77,128.90 323.85,131.70 327.61,131.70 328.45,128.90 330.45,128.90 331.52,131.70 335.28,131.70 336.13,128.90 338.12,128.90 339.20,131.70 342.96,131.70 343.80,128.90 345.80,128.90 346.87,131.70 350.64,131.70 351.48,128.90 353.48,128.90 354.55,131.70 358.31,131.70 359.16,128.90 361.15,128.90 362.23,131.70 365.99,131.70 366.83,128.90 368.83,128.90 369.90,131.70 373.66,131.70 374.51,128.90 376.50,128.90 377.58,131.70 381.34,131.70 382.18,128.90 384.18,128.90 385.25,131.70 389.02,131.70 389.86,128.90 391.86,128.90 392.93,131.70 396.69,131.70 397.54,128.90 399.53,128.90 400.61,131.70 404.37,131.70 405.21,128.90 407.21,128.90 408.28,131.70 412.04,131.70 412.89,128.90 414.88,128.90 415.96,131.70 419.72,131.70 420.56,128.90 422.56,128.90 423.63,131.70 427.40,131.70 428.24,128.90 430.24,128.90 431.31,131.70 435.07,131.70 435.92,128.90 437.91,128.90 438.99,131.70 442.75,131.70 443.59,128.90 445.59,128.90 446.66,131.70 450.42,131.70 451.27,128.90 453.26,128.90 454.34,131.70 458.10,131.70 458.94,128.90 460.94,128.90 462.01,131.70 465.78,131.70 466.62,128.90 468.62,128.90 469.69,131.70 473.45,131.70 474.30,128.90 476.29,128.90 477.37,131.70 481.13,131.70 481.97,128.90 483.97,128.90 485.04,131.70 488.80,131.70 489.65,128.90 491.64,128.90 492.72,131.70 496.48,131.70 497.32,128.90 499.32,128.90 500.39,131.70 504.16,131.70 505.00,128.90 507.00,128.90 508.07,131.70 511.83,131.70 512.68,128.90 514.67,128.90 515.75,131.70 519.51,131.70 520.35,128.90 522.35,128.90 523.42,131.70 527.18,131.70 528.03,128.90 530.02,128.90 531.10,131.70 534.86,131.70 535.70,128.90 537.70,128.90 538.77,131.70 542.54,131.70 543.38,128.90 545.38,128.90 546.45,131.70 550.21,131.70 551.06,128.90 553.05,128.90 554.13,131.70 557.89,131.70 558.73,128.90 560.73,128.90 561.80,131.70 565.56,131.70 566.41,128.90 568.40,128.90 569.48,131.70 573.24,131.70 574.08,128.90 576.08,128.90 577.15,131.70 580.92,131.70 581.76,128.90 583.76,128.90 584.83,131.70 588.59,131.70 589.44,128.90 591.43,128.90 592.51,131.70 596.27,131.70 597.11,128.90 599.11,128.90 600.18,131.70 603.94,131.70 604.79,128.90 606.78,128.90 607.86,131.70 611.62,131.70 612.46,128.90 614.46,128.90 615.53,131.70 619.30,131.70 620.14,128.90 622.14,128.90 623.21,131.70 626.97,131.70 627.82,128.90 629.81,128.90 630.89,131.70 634.65,131.70 635.49,128.90 637.49,128.90 638.56,131.70 642.32,131.70 643.17,128.90 645.16,128.90 646.24,131.70 650.00,131.70 650.84,128.90 652.84,128.90 653.91,131.70 657.68,131.70 658.52,128.90 660.52,128.90 661.59,131.70 665.35,131.70 666.20,128.90 668.19,128.90 669.27,131.70 673.03,131.70 673.87,128.90 675.87,128.90 676.94,131.70 680.70,131.70 681.55,128.90 683.54,128.90 684.62,131.70 688.38,131.70 689.22,128.90 691.22,128.90 692.29,131.70 696.06,131.70 696.90,128.90 698.90,128.90 699.97,131.70 703.73,131.70 704.58,128.90 706.57,128.90 707.65,131.70 711.41,131.70 712.25,128.90 714.25,128.90 715.32,131.70 719.08,131.70 719.93,128.90 721.92,128.90 723.00,131.70 726.76,131.70 727.60,128.90 729.60,128.90 730.67,131.70 734.44,131.70 735.28,128.90 737.28,128.90 738.35,131.70 742.11,131.70 742.96,128.90 744.95,128.90 746.03,131.70 749.79,131.70 750.63,128.90 752.63,128.90 753.70,131.70 757.46,131.70 758.31,128.90 760.30,128.90 761.38,131.70 765.14,131.70 765.98,128.90 767.98,128.90 769.05,131.70 772.82,131.70 773.66,128.90 775.66,128.90 776.73,131.70 780.49,131.70 781.34,128.90 783.33,128.90 784.41,131.70 788.17,131.70 789.01,128.90 791.01,128.90 792.08,131.70 795.84,131.70 796.69,128.90 798.68,128.90 799.76,131.70 803.52,131.70 804.36,128.90 806.36,128.90 807.43,131.70 811.20,131.70 812.04,128.90 814.04,128.90 815.11,131.70 818.87,131.70 819.72,128.90 821.71,128.90 822.79,131.70 826.55,131.70 827.39,128.90 829.39,128.90 830.46,131.70 834.22,131.70 835.07,128.90 837.06,128.90 838.14,131.70 841.90,131.70 842.74,128.90 844.74,128.90 845.81,131.70 849.58,131.70 850.42,128.90 852.42,128.90 853.49,131.70 857.25,131.70 858.10,128.90 860.09,128.90 861.17,131.70 864.93,131.70 865.77,128.90 867.77,128.90 868.84,131.70 872.60,131.70 873.45,128.90 875.44,128.90 876.52,131.70 880.28,131.70 881.12,128.90 883.12,128.90 884.19,131.70 887.96,131.70 888.80,128.90 890.80,128.90 891.87,131.70 895.63,131.70 896.48,128.90 898.47,128.90 899.55,131.70 903.31,131.70 904.15,128.90 906.15,128.90 907.22,131.70 910.98,131.70 911.83,128.90 913.82,128.90 914.90,131.70 918.66,131.70" fill="none" stroke="#FBC15E" stroke-width="1.4" stroke-linejoin="round"/>
<line x1="138.75" y1="128.9" x2="904.75" y2="128.9" stroke="#FBC15E" stroke-width="1.4"/>
<line x1="138.75" y1="322.4" x2="904.75" y2="322.4" stroke="#777777" stroke-width="1.0"/>
<line x1="138.75" y1="321.8" x2="904.75" y2="321.8" stroke="#FFB5B8" stroke-width="1.0"/>
<polyline points="122.89,321.60 122.89,319.20 123.81,319.20 123.81,321.60 130.56,321.60 130.56,319.20 131.49,319.20 131.49,321.60 138.24,321.60 138.24,319.20 139.16,319.20 139.16,321.60 145.92,321.60 145.92,319.20 146.84,319.20 146.84,321.60 153.59,321.60 153.59,319.20 154.51,319.20 154.51,321.60 161.27,321.60 161.27,319.20 162.19,319.20 162.19,321.60 168.94,321.60 168.94,319.20 169.87,319.20 169.87,321.60 176.62,321.60 176.62,319.20 177.54,319.20 177.54,321.60 184.30,321.60 184.30,319.20 185.22,319.20 185.22,321.60 191.97,321.60 191.97,319.20 192.89,319.20 192.89,321.60 199.65,321.60 199.65,319.20 200.57,319.20 200.57,321.60 207.32,321.60 207.32,319.20 208.25,319.20 208.25,321.60 215.00,321.60 215.00,319.20 215.92,319.20 215.92,321.60 222.68,321.60 222.68,319.20 223.60,319.20 223.60,321.60 230.35,321.60 230.35,319.20 231.27,319.20 231.27,321.60 238.03,321.60 238.03,319.20 238.95,319.20 238.95,321.60 245.70,321.60 245.70,319.20 246.63,319.20 246.63,321.60 253.38,321.60 253.38,319.20 254.30,319.20 254.30,321.60 261.06,321.60 261.06,319.20 261.98,319.20 261.98,321.60 268.73,321.60 268.73,319.20 269.65,319.20 269.65,321.60 276.41,321.60 276.41,319.20 277.33,319.20 277.33,321.60 284.08,321.60 284.08,319.20 285.01,319.20 285.01,321.60 291.76,321.60 291.76,319.20 292.68,319.20 292.68,321.60 299.44,321.60 299.44,319.20 300.36,319.20 300.36,321.60 307.11,321.60 307.11,319.20 308.03,319.20 308.03,321.60 314.79,321.60 314.79,319.20 315.71,319.20 315.71,321.60 322.46,321.60 322.46,319.20 323.39,319.20 323.39,321.60 330.14,321.60 330.14,319.20 331.06,319.20 331.06,321.60 337.82,321.60 337.82,319.20 338.74,319.20 338.74,321.60 345.49,321.60 345.49,319.20 346.41,319.20 346.41,321.60 353.17,321.60 353.17,319.20 354.09,319.20 354.09,321.60 360.84,321.60 360.84,319.20 361.77,319.20 361.77,321.60 368.52,321.60 368.52,319.20 369.44,319.20 369.44,321.60 376.20,321.60 376.20,319.20 377.12,319.20 377.12,321.60 383.87,321.60 383.87,319.20 384.79,319.20 384.79,321.60 391.55,321.60 391.55,319.20 392.47,319.20 392.47,321.60 399.22,321.60 399.22,319.20 400.15,319.20 400.15,321.60 406.90,321.60 406.90,319.20 407.82,319.20 407.82,321.60 414.58,321.60 414.58,319.20 415.50,319.20 415.50,321.60 422.25,321.60 422.25,319.20 423.17,319.20 423.17,321.60 429.93,321.60 429.93,319.20 430.85,319.20 430.85,321.60 437.60,321.60 437.60,319.20 438.53,319.20 438.53,321.60 445.28,321.60 445.28,319.20 446.20,319.20 446.20,321.60 452.96,321.60 452.96,319.20 453.88,319.20 453.88,321.60 460.63,321.60 460.63,319.20 461.55,319.20 461.55,321.60 468.31,321.60 468.31,319.20 469.23,319.20 469.23,321.60 475.98,321.60 475.98,319.20 476.91,319.20 476.91,321.60 483.66,321.60 483.66,319.20 484.58,319.20 484.58,321.60 491.34,321.60 491.34,319.20 492.26,319.20 492.26,321.60 499.01,321.60 499.01,319.20 499.93,319.20 499.93,321.60 506.69,321.60 506.69,319.20 507.61,319.20 507.61,321.60 514.36,321.60 514.36,319.20 515.29,319.20 515.29,321.60 522.04,321.60 522.04,319.20 522.96,319.20 522.96,321.60 529.72,321.60 529.72,319.20 530.64,319.20 530.64,321.60 537.39,321.60 537.39,319.20 538.31,319.20 538.31,321.60 545.07,321.60 545.07,319.20 545.99,319.20 545.99,321.60 552.74,321.60 552.74,319.20 553.67,319.20 553.67,321.60 560.42,321.60 560.42,319.20 561.34,319.20 561.34,321.60 568.10,321.60 568.10,319.20 569.02,319.20 569.02,321.60 575.77,321.60 575.77,319.20 576.69,319.20 576.69,321.60 583.45,321.60 583.45,319.20 584.37,319.20 584.37,321.60 591.12,321.60 591.12,319.20 592.05,319.20 592.05,321.60 598.80,321.60 598.80,319.20 599.72,319.20 599.72,321.60 606.48,321.60 606.48,319.20 607.40,319.20 607.40,321.60 614.15,321.60 614.15,319.20 615.07,319.20 615.07,321.60 621.83,321.60 621.83,319.20 622.75,319.20 622.75,321.60 629.50,321.60 629.50,319.20 630.43,319.20 630.43,321.60 637.18,321.60 637.18,319.20 638.10,319.20 638.10,321.60 644.86,321.60 644.86,319.20 645.78,319.20 645.78,321.60 652.53,321.60 652.53,319.20 653.45,319.20 653.45,321.60 660.21,321.60 660.21,319.20 661.13,319.20 661.13,321.60 667.88,321.60 667.88,319.20 668.81,319.20 668.81,321.60 675.56,321.60 675.56,319.20 676.48,319.20 676.48,321.60 683.24,321.60 683.24,319.20 684.16,319.20 684.16,321.60 690.91,321.60 690.91,319.20 691.83,319.20 691.83,321.60 698.59,321.60 698.59,319.20 699.51,319.20 699.51,321.60 706.26,321.60 706.26,319.20 707.19,319.20 707.19,321.60 713.94,321.60 713.94,319.20 714.86,319.20 714.86,321.60 721.62,321.60 721.62,319.20 722.54,319.20 722.54,321.60 729.29,321.60 729.29,319.20 730.21,319.20 730.21,321.60 736.97,321.60 736.97,319.20 737.89,319.20 737.89,321.60 744.64,321.60 744.64,319.20 745.57,319.20 745.57,321.60 752.32,321.60 752.32,319.20 753.24,319.20 753.24,321.60 760.00,321.60 760.00,319.20 760.92,319.20 760.92,321.60 767.67,321.60 767.67,319.20 768.59,319.20 768.59,321.60 775.35,321.60 775.35,319.20 776.27,319.20 776.27,321.60 783.02,321.60 783.02,319.20 783.95,319.20 783.95,321.60 790.70,321.60 790.70,319.20 791.62,319.20 791.62,321.60 798.38,321.60 798.38,319.20 799.30,319.20 799.30,321.60 806.05,321.60 806.05,319.20 806.97,319.20 806.97,321.60 813.73,321.60 813.73,319.20 814.65,319.20 814.65,321.60 821.40,321.60 821.40,319.20 822.33,319.20 822.33,321.60 829.08,321.60 829.08,319.20 830.00,319.20 830.00,321.60 836.76,321.60 836.76,319.20 837.68,319.20 837.68,321.60 844.43,321.60 844.43,319.20 845.35,319.20 845.35,321.60 852.11,321.60 852.11,319.20 853.03,319.20 853.03,321.60 859.78,321.60 859.78,319.20 860.71,319.20 860.71,321.60 867.46,321.60 867.46,319.20 868.38,319.20 868.38,321.60 875.14,321.60 875.14,319.20 876.06,319.20 876.06,321.60 882.81,321.60 882.81,319.20 883.73,319.20 883.73,321.60 890.49,321.60 890.49,319.20 891.41,319.20 891.41,321.60 898.16,321.60 898.16,319.20 899.09,319.20 899.09,321.60 905.84,321.60 905.84,319.20 906.76,319.20 906.76,321.60 913.52,321.60 913.52,319.20 914.44,319.20 914.44,321.60" fill="none" stroke="#777777" stroke-width="1.0" stroke-linejoin="round"/>
<polyline points="119.97,319.30 122.66,319.30 123.43,320.10 126.50,320.10 127.26,319.30 127.65,319.30 130.33,319.30 131.10,320.10 134.17,320.10 134.94,319.30 135.32,319.30 138.01,319.30 138.78,320.10 141.85,320.10 142.62,319.30 143.00,319.30 145.69,319.30 146.45,320.10 149.52,320.10 150.29,319.30 150.68,319.30 153.36,319.30 154.13,320.10 157.20,320.10 157.97,319.30 158.35,319.30 161.04,319.30 161.81,320.10 164.88,320.10 165.64,319.30 166.03,319.30 168.71,319.30 169.48,320.10 172.55,320.10 173.32,319.30 173.70,319.30 176.39,319.30 177.16,320.10 180.23,320.10 181.00,319.30 181.38,319.30 184.07,319.30 184.83,320.10 187.90,320.10 188.67,319.30 189.06,319.30 191.74,319.30 192.51,320.10 195.58,320.10 196.35,319.30 196.73,319.30 199.42,319.30 200.19,320.10 203.26,320.10 204.02,319.30 204.41,319.30 207.09,319.30 207.86,320.10 210.93,320.10 211.70,319.30 212.08,319.30 214.77,319.30 215.54,320.10 218.61,320.10 219.38,319.30 219.76,319.30 222.45,319.30 223.21,320.10 226.28,320.10 227.05,319.30 227.44,319.30 230.12,319.30 230.89,320.10 233.96,320.10 234.73,319.30 235.11,319.30 237.80,319.30 238.57,320.10 241.64,320.10 242.40,319.30 242.79,319.30 245.47,319.30 246.24,320.10 249.31,320.10 250.08,319.30 250.46,319.30 253.15,319.30 253.92,320.10 256.99,320.10 257.76,319.30 258.14,319.30 260.83,319.30 261.59,320.10 264.66,320.10 265.43,319.30 265.82,319.30 268.50,319.30 269.27,320.10 272.34,320.10 273.11,319.30 273.49,319.30 276.18,319.30 276.95,320.10 280.02,320.10 280.78,319.30 281.17,319.30 283.85,319.30 284.62,320.10 287.69,320.10 288.46,319.30 288.84,319.30 291.53,319.30 292.30,320.10 295.37,320.10 296.14,319.30 296.52,319.30 299.21,319.30 299.97,320.10 303.04,320.10 303.81,319.30 304.20,319.30 306.88,319.30 307.65,320.10 310.72,320.10 311.49,319.30 311.87,319.30 314.56,319.30 315.33,320.10 318.40,320.10 319.16,319.30 319.55,319.30 322.23,319.30 323.00,320.10 326.07,320.10 326.84,319.30 327.22,319.30 329.91,319.30 330.68,320.10 333.75,320.10 334.52,319.30 334.90,319.30 337.59,319.30 338.35,320.10 341.42,320.10 342.19,319.30 342.58,319.30 345.26,319.30 346.03,320.10 349.10,320.10 349.87,319.30 350.25,319.30 352.94,319.30 353.71,320.10 356.78,320.10 357.54,319.30 357.93,319.30 360.61,319.30 361.38,320.10 364.45,320.10 365.22,319.30 365.60,319.30 368.29,319.30 369.06,320.10 372.13,320.10 372.90,319.30 373.28,319.30 375.97,319.30 376.73,320.10 379.80,320.10 380.57,319.30 380.96,319.30 383.64,319.30 384.41,320.10 387.48,320.10 388.25,319.30 388.63,319.30 391.32,319.30 392.09,320.10 395.16,320.10 395.92,319.30 396.31,319.30 398.99,319.30 399.76,320.10 402.83,320.10 403.60,319.30 403.98,319.30 406.67,319.30 407.44,320.10 410.51,320.10 411.28,319.30 411.66,319.30 414.35,319.30 415.11,320.10 418.18,320.10 418.95,319.30 419.34,319.30 422.02,319.30 422.79,320.10 425.86,320.10 426.63,319.30 427.01,319.30 429.70,319.30 430.47,320.10 433.54,320.10 434.30,319.30 434.69,319.30 437.37,319.30 438.14,320.10 441.21,320.10 441.98,319.30 442.36,319.30 445.05,319.30 445.82,320.10 448.89,320.10 449.66,319.30 450.04,319.30 452.73,319.30 453.49,320.10 456.56,320.10 457.33,319.30 457.72,319.30 460.40,319.30 461.17,320.10 464.24,320.10 465.01,319.30 465.39,319.30 468.08,319.30 468.85,320.10 471.92,320.10 472.68,319.30 473.07,319.30 475.75,319.30 476.52,320.10 479.59,320.10 480.36,319.30 480.74,319.30 483.43,319.30 484.20,320.10 487.27,320.10 488.04,319.30 488.42,319.30 491.11,319.30 491.87,320.10 494.94,320.10 495.71,319.30 496.10,319.30 498.78,319.30 499.55,320.10 502.62,320.10 503.39,319.30 503.77,319.30 506.46,319.30 507.23,320.10 510.30,320.10 511.06,319.30 511.45,319.30 514.13,319.30 514.90,320.10 517.97,320.10 518.74,319.30 519.12,319.30 521.81,319.30 522.58,320.10 525.65,320.10 526.42,319.30 526.80,319.30 529.49,319.30 530.25,320.10 533.32,320.10 534.09,319.30 534.48,319.30 537.16,319.30 537.93,320.10 541.00,320.10 541.77,319.30 542.15,319.30 544.84,319.30 545.61,320.10 548.68,320.10 549.44,319.30 549.83,319.30 552.51,319.30 553.28,320.10 556.35,320.10 557.12,319.30 557.50,319.30 560.19,319.30 560.96,320.10 564.03,320.10 564.80,319.30 565.18,319.30 567.87,319.30 568.63,320.10 571.70,320.10 572.47,319.30 572.86,319.30 575.54,319.30 576.31,320.10 579.38,320.10 580.15,319.30 580.53,319.30 583.22,319.30 583.99,320.10 587.06,320.10 587.82,319.30 588.21,319.30 590.89,319.30 591.66,320.10 594.73,320.10 595.50,319.30 595.88,319.30 598.57,319.30 599.34,320.10 602.41,320.10 603.18,319.30 603.56,319.30 606.25,319.30 607.01,320.10 610.08,320.10 610.85,319.30 611.24,319.30 613.92,319.30 614.69,320.10 617.76,320.10 618.53,319.30 618.91,319.30 621.60,319.30 622.37,320.10 625.44,320.10 626.20,319.30 626.59,319.30 629.27,319.30 630.04,320.10 633.11,320.10 633.88,319.30 634.26,319.30 636.95,319.30 637.72,320.10 640.79,320.10 641.56,319.30 641.94,319.30 644.63,319.30 645.39,320.10 648.46,320.10 649.23,319.30 649.62,319.30 652.30,319.30 653.07,320.10 656.14,320.10 656.91,319.30 657.29,319.30 659.98,319.30 660.75,320.10 663.82,320.10 664.58,319.30 664.97,319.30 667.65,319.30 668.42,320.10 671.49,320.10 672.26,319.30 672.64,319.30 675.33,319.30 676.10,320.10 679.17,320.10 679.94,319.30 680.32,319.30 683.01,319.30 683.77,320.10 686.84,320.10 687.61,319.30 688.00,319.30 690.68,319.30 691.45,320.10 694.52,320.10 695.29,319.30 695.67,319.30 698.36,319.30 699.13,320.10 702.20,320.10 702.96,319.30 703.35,319.30 706.03,319.30 706.80,320.10 709.87,320.10 710.64,319.30 711.02,319.30 713.71,319.30 714.48,320.10 717.55,320.10 718.32,319.30 718.70,319.30 721.39,319.30 722.15,320.10 725.22,320.10 725.99,319.30 726.38,319.30 729.06,319.30 729.83,320.10 732.90,320.10 733.67,319.30 734.05,319.30 736.74,319.30 737.51,320.10 740.58,320.10 741.34,319.30 741.73,319.30 744.41,319.30 745.18,320.10 748.25,320.10 749.02,319.30 749.40,319.30 752.09,319.30 752.86,320.10 755.93,320.10 756.70,319.30 757.08,319.30 759.77,319.30 760.53,320.10 763.60,320.10 764.37,319.30 764.76,319.30 767.44,319.30 768.21,320.10 771.28,320.10 772.05,319.30 772.43,319.30 775.12,319.30 775.89,320.10 778.96,320.10 779.72,319.30 780.11,319.30 782.79,319.30 783.56,320.10 786.63,320.10 787.40,319.30 787.78,319.30 790.47,319.30 791.24,320.10 794.31,320.10 795.08,319.30 795.46,319.30 798.15,319.30 798.91,320.10 801.98,320.10 802.75,319.30 803.14,319.30 805.82,319.30 806.59,320.10 809.66,320.10 810.43,319.30 810.81,319.30 813.50,319.30 814.27,320.10 817.34,320.10 818.10,319.30 818.49,319.30 821.17,319.30 821.94,320.10 825.01,320.10 825.78,319.30 826.16,319.30 828.85,319.30 829.62,320.10 832.69,320.10 833.46,319.30 833.84,319.30 836.53,319.30 837.29,320.10 840.36,320.10 841.13,319.30 841.52,319.30 844.20,319.30 844.97,320.10 848.04,320.10 848.81,319.30 849.19,319.30 851.88,319.30 852.65,320.10 855.72,320.10 856.48,319.30 856.87,319.30 859.55,319.30 860.32,320.10 863.39,320.10 864.16,319.30 864.54,319.30 867.23,319.30 868.00,320.10 871.07,320.10 871.84,319.30 872.22,319.30 874.91,319.30 875.67,320.10 878.74,320.10 879.51,319.30 879.90,319.30 882.58,319.30 883.35,320.10 886.42,320.10 887.19,319.30 887.57,319.30 890.26,319.30 891.03,320.10 894.10,320.10 894.86,319.30 895.25,319.30 897.93,319.30 898.70,320.10 901.77,320.10 902.54,319.30 902.92,319.30 905.61,319.30 906.38,320.10 909.45,320.10 910.22,319.30 910.60,319.30 913.29,319.30 914.05,320.10 917.12,320.10 917.89,319.30" fill="none" stroke="#8EBA42" stroke-width="1.4" stroke-linejoin="round"/>
<polyline points="121.09,321.60 121.09,320.40 123.31,320.40 123.31,321.60 128.76,321.60 128.76,320.40 130.99,320.40 130.99,321.60 136.44,321.60 136.44,320.40 138.66,320.40 138.66,321.60 144.11,321.60 144.11,320.40 146.34,320.40 146.34,321.60 151.79,321.60 151.79,320.40 154.02,320.40 154.02,321.60 159.47,321.60 159.47,320.40 161.69,320.40 161.69,321.60 167.14,321.60 167.14,320.40 169.37,320.40 169.37,321.60 174.82,321.60 174.82,320.40 177.04,320.40 177.04,321.60 182.49,321.60 182.49,320.40 184.72,320.40 184.72,321.60 190.17,321.60 190.17,320.40 192.40,320.40 192.40,321.60 197.85,321.60 197.85,320.40 200.07,320.40 200.07,321.60 205.52,321.60 205.52,320.40 207.75,320.40 207.75,321.60 213.20,321.60 213.20,320.40 215.42,320.40 215.42,321.60 220.87,321.60 220.87,320.40 223.10,320.40 223.10,321.60 228.55,321.60 228.55,320.40 230.78,320.40 230.78,321.60 236.23,321.60 236.23,320.40 238.45,320.40 238.45,321.60 243.90,321.60 243.90,320.40 246.13,320.40 246.13,321.60 251.58,321.60 251.58,320.40 253.80,320.40 253.80,321.60 259.25,321.60 259.25,320.40 261.48,320.40 261.48,321.60 266.93,321.60 266.93,320.40 269.16,320.40 269.16,321.60 274.61,321.60 274.61,320.40 276.83,320.40 276.83,321.60 282.28,321.60 282.28,320.40 284.51,320.40 284.51,321.60 289.96,321.60 289.96,320.40 292.18,320.40 292.18,321.60 297.63,321.60 297.63,320.40 299.86,320.40 299.86,321.60 305.31,321.60 305.31,320.40 307.54,320.40 307.54,321.60 312.99,321.60 312.99,320.40 315.21,320.40 315.21,321.60 320.66,321.60 320.66,320.40 322.89,320.40 322.89,321.60 328.34,321.60 328.34,320.40 330.56,320.40 330.56,321.60 336.01,321.60 336.01,320.40 338.24,320.40 338.24,321.60 343.69,321.60 343.69,320.40 345.92,320.40 345.92,321.60 351.37,321.60 351.37,320.40 353.59,320.40 353.59,321.60 359.04,321.60 359.04,320.40 361.27,320.40 361.27,321.60 366.72,321.60 366.72,320.40 368.94,320.40 368.94,321.60 374.39,321.60 374.39,320.40 376.62,320.40 376.62,321.60 382.07,321.60 382.07,320.40 384.30,320.40 384.30,321.60 389.75,321.60 389.75,320.40 391.97,320.40 391.97,321.60 397.42,321.60 397.42,320.40 399.65,320.40 399.65,321.60 405.10,321.60 405.10,320.40 407.32,320.40 407.32,321.60 412.77,321.60 412.77,320.40 415.00,320.40 415.00,321.60 420.45,321.60 420.45,320.40 422.68,320.40 422.68,321.60 428.13,321.60 428.13,320.40 430.35,320.40 430.35,321.60 435.80,321.60 435.80,320.40 438.03,320.40 438.03,321.60 443.48,321.60 443.48,320.40 445.70,320.40 445.70,321.60 451.15,321.60 451.15,320.40 453.38,320.40 453.38,321.60 458.83,321.60 458.83,320.40 461.06,320.40 461.06,321.60 466.51,321.60 466.51,320.40 468.73,320.40 468.73,321.60 474.18,321.60 474.18,320.40 476.41,320.40 476.41,321.60 481.86,321.60 481.86,320.40 484.08,320.40 484.08,321.60 489.53,321.60 489.53,320.40 491.76,320.40 491.76,321.60 497.21,321.60 497.21,320.40 499.44,320.40 499.44,321.60 504.89,321.60 504.89,320.40 507.11,320.40 507.11,321.60 512.56,321.60 512.56,320.40 514.79,320.40 514.79,321.60 520.24,321.60 520.24,320.40 522.46,320.40 522.46,321.60 527.91,321.60 527.91,320.40 530.14,320.40 530.14,321.60 535.59,321.60 535.59,320.40 537.82,320.40 537.82,321.60 543.27,321.60 543.27,320.40 545.49,320.40 545.49,321.60 550.94,321.60 550.94,320.40 553.17,320.40 553.17,321.60 558.62,321.60 558.62,320.40 560.84,320.40 560.84,321.60 566.29,321.60 566.29,320.40 568.52,320.40 568.52,321.60 573.97,321.60 573.97,320.40 576.20,320.40 576.20,321.60 581.65,321.60 581.65,320.40 583.87,320.40 583.87,321.60 589.32,321.60 589.32,320.40 591.55,320.40 591.55,321.60 597.00,321.60 597.00,320.40 599.22,320.40 599.22,321.60 604.67,321.60 604.67,320.40 606.90,320.40 606.90,321.60 612.35,321.60 612.35,320.40 614.58,320.40 614.58,321.60 620.03,321.60 620.03,320.40 622.25,320.40 622.25,321.60 627.70,321.60 627.70,320.40 629.93,320.40 629.93,321.60 635.38,321.60 635.38,320.40 637.60,320.40 637.60,321.60 643.05,321.60 643.05,320.40 645.28,320.40 645.28,321.60 650.73,321.60 650.73,320.40 652.96,320.40 652.96,321.60 658.41,321.60 658.41,320.40 660.63,320.40 660.63,321.60 666.08,321.60 666.08,320.40 668.31,320.40 668.31,321.60 673.76,321.60 673.76,320.40 675.98,320.40 675.98,321.60 681.43,321.60 681.43,320.40 683.66,320.40 683.66,321.60 689.11,321.60 689.11,320.40 691.34,320.40 691.34,321.60 696.79,321.60 696.79,320.40 699.01,320.40 699.01,321.60 704.46,321.60 704.46,320.40 706.69,320.40 706.69,321.60 712.14,321.60 712.14,320.40 714.36,320.40 714.36,321.60 719.81,321.60 719.81,320.40 722.04,320.40 722.04,321.60 727.49,321.60 727.49,320.40 729.72,320.40 729.72,321.60 735.17,321.60 735.17,320.40 737.39,320.40 737.39,321.60 742.84,321.60 742.84,320.40 745.07,320.40 745.07,321.60 750.52,321.60 750.52,320.40 752.74,320.40 752.74,321.60 758.19,321.60 758.19,320.40 760.42,320.40 760.42,321.60 765.87,321.60 765.87,320.40 768.10,320.40 768.10,321.60 773.55,321.60 773.55,320.40 775.77,320.40 775.77,321.60 781.22,321.60 781.22,320.40 783.45,320.40 783.45,321.60 788.90,321.60 788.90,320.40 791.12,320.40 791.12,321.60 796.57,321.60 796.57,320.40 798.80,320.40 798.80,321.60 804.25,321.60 804.25,320.40 806.48,320.40 806.48,321.60 811.93,321.60 811.93,320.40 814.15,320.40 814.15,321.60 819.60,321.60 819.60,320.40 821.83,320.40 821.83,321.60 827.28,321.60 827.28,320.40 829.50,320.40 829.50,321.60 834.95,321.60 834.95,320.40 837.18,320.40 837.18,321.60 842.63,321.60 842.63,320.40 844.86,320.40 844.86,321.60 850.31,321.60 850.31,320.40 852.53,320.40 852.53,321.60 857.98,321.60 857.98,320.40 860.21,320.40 860.21,321.60 865.66,321.60 865.66,320.40 867.88,320.40 867.88,321.60 873.33,321.60 873.33,320.40 875.56,320.40 875.56,321.60 881.01,321.60 881.01,320.40 883.24,320.40 883.24,321.60 888.69,321.60 888.69,320.40 890.91,320.40 890.91,321.60 896.36,321.60 896.36,320.40 898.59,320.40 898.59,321.60 904.04,321.60 904.04,320.40 906.26,320.40 906.26,321.60 911.71,321.60 911.71,320.40 913.94,320.40 913.94,321.60" fill="none" stroke="#E24A33" stroke-width="1.4" stroke-linejoin="round"/>
</g>
<line x1="132.2" y1="80.5" x2="137.9" y2="80.5" stroke="#555555" stroke-width="0.75"/>
<line x1="906.1" y1="80.5" x2="911.8" y2="80.5" stroke="#555555" stroke-width="0.75"/>
<line x1="132.2" y1="128.5" x2="137.9" y2="128.5" stroke="#555555" stroke-width="0.75"/>
<line x1="906.1" y1="128.5" x2="911.8" y2="128.5" stroke="#555555" stroke-width="0.75"/>
<line x1="132.2" y1="177.5" x2="137.9" y2="177.5" stroke="#555555" stroke-width="0.75"/>
<line x1="906.1" y1="177.5" x2="911.8" y2="177.5" stroke="#555555" stroke-width="0.75"/>
<line x1="132.2" y1="225.5" x2="137.9" y2="225.5" stroke="#555555" stroke-width="0.75"/>
<line x1="906.1" y1="225.5" x2="911.8" y2="225.5" stroke="#555555" stroke-width="0.75"/>
<line x1="132.2" y1="274.5" x2="137.9" y2="274.5" stroke="#555555" stroke-width="0.75"/>
<line x1="906.1" y1="274.5" x2="911.8" y2="274.5" stroke="#555555" stroke-width="0.75"/>
<line x1="132.2" y1="322.5" x2="137.9" y2="322.5" stroke="#555555" stroke-width="0.75"/>
<line x1="906.1" y1="322.5" x2="911.8" y2="322.5" stroke="#555555" stroke-width="0.75"/>
<line x1="132.2" y1="371.5" x2="137.9" y2="371.5" stroke="#555555" stroke-width="0.75"/>
<line x1="906.1" y1="371.5" x2="911.8" y2="371.5" stroke="#555555" stroke-width="0.75"/>
<line x1="138.5" y1="74.2" x2="138.5" y2="79.7" stroke="#555555" stroke-width="0.75"/>
<line x1="138.5" y1="372.3" x2="138.5" y2="377.8" stroke="#555555" stroke-width="0.75"/>
<line x1="291.5" y1="74.2" x2="291.5" y2="79.7" stroke="#555555" stroke-width="0.75"/>
<line x1="291.5" y1="372.3" x2="291.5" y2="377.8" stroke="#555555" stroke-width="0.75"/>
<line x1="444.5" y1="74.2" x2="444.5" y2="79.7" stroke="#555555" stroke-width="0.75"/>
<line x1="444.5" y1="372.3" x2="444.5" y2="377.8" stroke="#555555" stroke-width="0.75"/>
<line x1="598.5" y1="74.2" x2="598.5" y2="79.7" stroke="#555555" stroke-width="0.75"/>
<line x1="598.5" y1="372.3" x2="598.5" y2="377.8" stroke="#555555" stroke-width="0.75"/>
<line x1="751.5" y1="74.2" x2="751.5" y2="79.7" stroke="#555555" stroke-width="0.75"/>
<line x1="751.5" y1="372.3" x2="751.5" y2="377.8" stroke="#555555" stroke-width="0.75"/>
<text x="125.40" y="83.80" font-size="14.44" text-anchor="end" fill="#555555" textLength="21.29" lengthAdjust="spacingAndGlyphs" stroke="#555555" stroke-width="0.1">1.5</text>
<text x="125.40" y="131.80" font-size="14.44" text-anchor="end" fill="#555555" textLength="21.29" lengthAdjust="spacingAndGlyphs" stroke="#555555" stroke-width="0.1">1.0</text>
<text x="125.40" y="180.80" font-size="14.44" text-anchor="end" fill="#555555" textLength="21.29" lengthAdjust="spacingAndGlyphs" stroke="#555555" stroke-width="0.1">0.5</text>
<text x="125.40" y="228.80" font-size="14.44" text-anchor="end" fill="#555555" textLength="21.29" lengthAdjust="spacingAndGlyphs" stroke="#555555" stroke-width="0.1">0.0</text>
<text x="125.40" y="277.80" font-size="14.44" text-anchor="end" fill="#555555" textLength="32.51" lengthAdjust="spacingAndGlyphs" stroke="#555555" stroke-width="0.1">−0.5</text>
<text x="125.40" y="325.80" font-size="14.44" text-anchor="end" fill="#555555" textLength="32.51" lengthAdjust="spacingAndGlyphs" stroke="#555555" stroke-width="0.1">−1.0</text>
<text x="125.40" y="374.80" font-size="14.44" text-anchor="end" fill="#555555" textLength="32.51" lengthAdjust="spacingAndGlyphs" stroke="#555555" stroke-width="0.1">−1.5</text>
<rect x="139" y="430.00" width="765.75" height="290.00" fill="#E5E5E5"/>
<line x1="291.5" y1="430.0" x2="291.5" y2="720.0" stroke="#fff" stroke-width="0.8"/>
<line x1="444.5" y1="430.0" x2="444.5" y2="720.0" stroke="#fff" stroke-width="0.8"/>
<line x1="598.5" y1="430.0" x2="598.5" y2="720.0" stroke="#fff" stroke-width="0.8"/>
<line x1="751.5" y1="430.0" x2="751.5" y2="720.0" stroke="#fff" stroke-width="0.8"/>
<g clip-path="url(#clipBot)">
<g>
<polyline points="138.75,475.90 139.16,475.90 139.16,486.10 143.00,486.10" fill="none" stroke="#E24A33" stroke-width="1.4" stroke-linejoin="round"/>
<polyline points="119.97,486.10 119.97,475.90 123.81,475.90 123.81,486.10 127.65,486.10 127.65,475.90 131.49,475.90 131.49,486.10 135.32,486.10 135.32,475.90 139.16,475.90 139.16,486.10 143.00,486.10 143.00,475.90 146.84,475.90 146.84,486.10 150.68,486.10 150.68,475.90 154.51,475.90 154.51,486.10 158.35,486.10 158.35,475.90 162.19,475.90 162.19,486.10 166.03,486.10 166.03,475.90 169.87,475.90 169.87,486.10 173.70,486.10 173.70,475.90 177.54,475.90 177.54,486.10 181.38,486.10 181.38,475.90 185.22,475.90 185.22,486.10 189.06,486.10 189.06,475.90 192.89,475.90 192.89,486.10 196.73,486.10 196.73,475.90 200.57,475.90 200.57,486.10 204.41,486.10 204.41,475.90 208.25,475.90 208.25,486.10 212.08,486.10 212.08,475.90 215.92,475.90 215.92,486.10 219.76,486.10 219.76,475.90 223.60,475.90 223.60,486.10 227.44,486.10 227.44,475.90 231.27,475.90 231.27,486.10 235.11,486.10 235.11,475.90 238.95,475.90 238.95,486.10 242.79,486.10 242.79,475.90 246.63,475.90 246.63,486.10 250.46,486.10 250.46,475.90 254.30,475.90 254.30,486.10 258.14,486.10 258.14,475.90 261.98,475.90 261.98,486.10 265.82,486.10 265.82,475.90 269.65,475.90 269.65,486.10 273.49,486.10 273.49,475.90 277.33,475.90 277.33,486.10 281.17,486.10 281.17,475.90 285.01,475.90 285.01,486.10 288.84,486.10 288.84,475.90 292.68,475.90 292.68,486.10 296.52,486.10 296.52,475.90 300.36,475.90 300.36,486.10 304.20,486.10 304.20,475.90 308.03,475.90 308.03,486.10 311.87,486.10 311.87,475.90 315.71,475.90 315.71,486.10 319.55,486.10 319.55,475.90 323.39,475.90 323.39,486.10 327.22,486.10 327.22,475.90 331.06,475.90 331.06,486.10 334.90,486.10 334.90,475.90 338.74,475.90 338.74,486.10 342.58,486.10 342.58,475.90 346.41,475.90 346.41,486.10 350.25,486.10 350.25,475.90 354.09,475.90 354.09,486.10 357.93,486.10 357.93,475.90 361.77,475.90 361.77,486.10 365.60,486.10 365.60,475.90 369.44,475.90 369.44,486.10 373.28,486.10 373.28,475.90 377.12,475.90 377.12,486.10 380.96,486.10 380.96,475.90 384.79,475.90 384.79,486.10 388.63,486.10 388.63,475.90 392.47,475.90 392.47,486.10 396.31,486.10 396.31,475.90 400.15,475.90 400.15,486.10 403.98,486.10 403.98,475.90 407.82,475.90 407.82,486.10 411.66,486.10 411.66,475.90 415.50,475.90 415.50,486.10 419.34,486.10 419.34,475.90 423.17,475.90 423.17,486.10 427.01,486.10 427.01,475.90 430.85,475.90 430.85,486.10 434.69,486.10 434.69,475.90 438.53,475.90 438.53,486.10 442.36,486.10 442.36,475.90 446.20,475.90 446.20,486.10 450.04,486.10 450.04,475.90 453.88,475.90 453.88,486.10 457.72,486.10 457.72,475.90 461.55,475.90 461.55,486.10 465.39,486.10 465.39,475.90 469.23,475.90 469.23,486.10 473.07,486.10 473.07,475.90 476.91,475.90 476.91,486.10 480.74,486.10 480.74,475.90 484.58,475.90 484.58,486.10 488.42,486.10 488.42,475.90 492.26,475.90 492.26,486.10 496.10,486.10 496.10,475.90 499.93,475.90 499.93,486.10 503.77,486.10 503.77,475.90 507.61,475.90 507.61,486.10 511.45,486.10 511.45,475.90 515.29,475.90 515.29,486.10 519.12,486.10 519.12,475.90 522.96,475.90 522.96,486.10 526.80,486.10 526.80,475.90 530.64,475.90 530.64,486.10 534.48,486.10 534.48,475.90 538.31,475.90 538.31,486.10 542.15,486.10 542.15,475.90 545.99,475.90 545.99,486.10 549.83,486.10 549.83,475.90 553.67,475.90 553.67,486.10 557.50,486.10 557.50,475.90 561.34,475.90 561.34,486.10 565.18,486.10 565.18,475.90 569.02,475.90 569.02,486.10 572.86,486.10 572.86,475.90 576.69,475.90 576.69,486.10 580.53,486.10 580.53,475.90 584.37,475.90 584.37,486.10 588.21,486.10 588.21,475.90 592.05,475.90 592.05,486.10 595.88,486.10 595.88,475.90 599.72,475.90 599.72,486.10 603.56,486.10 603.56,475.90 607.40,475.90 607.40,486.10 611.24,486.10 611.24,475.90 615.07,475.90 615.07,486.10 618.91,486.10 618.91,475.90 622.75,475.90 622.75,486.10 626.59,486.10 626.59,475.90 630.43,475.90 630.43,486.10 634.26,486.10 634.26,475.90 638.10,475.90 638.10,486.10 641.94,486.10 641.94,475.90 645.78,475.90 645.78,486.10 649.62,486.10 649.62,475.90 653.45,475.90 653.45,486.10 657.29,486.10 657.29,475.90 661.13,475.90 661.13,486.10 664.97,486.10 664.97,475.90 668.81,475.90 668.81,486.10 672.64,486.10 672.64,475.90 676.48,475.90 676.48,486.10 680.32,486.10 680.32,475.90 684.16,475.90 684.16,486.10 688.00,486.10 688.00,475.90 691.83,475.90 691.83,486.10 695.67,486.10 695.67,475.90 699.51,475.90 699.51,486.10 703.35,486.10 703.35,475.90 707.19,475.90 707.19,486.10 711.02,486.10 711.02,475.90 714.86,475.90 714.86,486.10 718.70,486.10 718.70,475.90 722.54,475.90 722.54,486.10 726.38,486.10 726.38,475.90 730.21,475.90 730.21,486.10 734.05,486.10 734.05,475.90 737.89,475.90 737.89,486.10 741.73,486.10 741.73,475.90 745.57,475.90 745.57,486.10 749.40,486.10 749.40,475.90 753.24,475.90 753.24,486.10 757.08,486.10 757.08,475.90 760.92,475.90 760.92,486.10 764.76,486.10 764.76,475.90 768.59,475.90 768.59,486.10 772.43,486.10 772.43,475.90 776.27,475.90 776.27,486.10 780.11,486.10 780.11,475.90 783.95,475.90 783.95,486.10 787.78,486.10 787.78,475.90 791.62,475.90 791.62,486.10 795.46,486.10 795.46,475.90 799.30,475.90 799.30,486.10 803.14,486.10 803.14,475.90 806.97,475.90 806.97,486.10 810.81,486.10 810.81,475.90 814.65,475.90 814.65,486.10 818.49,486.10 818.49,475.90 822.33,475.90 822.33,486.10 826.16,486.10 826.16,475.90 830.00,475.90 830.00,486.10 833.84,486.10 833.84,475.90 837.68,475.90 837.68,486.10 841.52,486.10 841.52,475.90 845.35,475.90 845.35,486.10 849.19,486.10 849.19,475.90 853.03,475.90 853.03,486.10 856.87,486.10 856.87,475.90 860.71,475.90 860.71,486.10 864.54,486.10 864.54,475.90 868.38,475.90 868.38,486.10 872.22,486.10 872.22,475.90 876.06,475.90 876.06,486.10 879.90,486.10 879.90,475.90 883.73,475.90 883.73,486.10 887.57,486.10 887.57,475.90 891.41,475.90 891.41,486.10 895.25,486.10 895.25,475.90 899.09,475.90 899.09,486.10 902.92,486.10 902.92,475.90 906.76,475.90 906.76,486.10 910.60,486.10 910.60,475.90 914.44,475.90 914.44,486.10" fill="none" stroke="#E24A33" stroke-width="1.4" stroke-linejoin="round"/>
<polyline points="138.75,489.10 140.80,489.10 140.80,499.50" fill="none" stroke="#348ABD" stroke-width="1.4" stroke-linejoin="round"/>
<polyline points="121.67,499.50 121.67,489.10 125.51,489.10 125.51,499.50 129.35,499.50 129.35,489.10 133.19,489.10 133.19,499.50 137.02,499.50 137.02,489.10 140.86,489.10 140.86,499.50 144.70,499.50 144.70,489.10 148.54,489.10 148.54,499.50 152.38,499.50 152.38,489.10 156.21,489.10 156.21,499.50 160.05,499.50 160.05,489.10 163.89,489.10 163.89,499.50 167.73,499.50 167.73,489.10 171.57,489.10 171.57,499.50 175.40,499.50 175.40,489.10 179.24,489.10 179.24,499.50 183.08,499.50 183.08,489.10 186.92,489.10 186.92,499.50 190.76,499.50 190.76,489.10 194.59,489.10 194.59,499.50 198.43,499.50 198.43,489.10 202.27,489.10 202.27,499.50 206.11,499.50 206.11,489.10 209.95,489.10 209.95,499.50 213.78,499.50 213.78,489.10 217.62,489.10 217.62,499.50 221.46,499.50 221.46,489.10 225.30,489.10 225.30,499.50 229.14,499.50 229.14,489.10 232.97,489.10 232.97,499.50 236.81,499.50 236.81,489.10 240.65,489.10 240.65,499.50 244.49,499.50 244.49,489.10 248.33,489.10 248.33,499.50 252.16,499.50 252.16,489.10 256.00,489.10 256.00,499.50 259.84,499.50 259.84,489.10 263.68,489.10 263.68,499.50 267.52,499.50 267.52,489.10 271.35,489.10 271.35,499.50 275.19,499.50 275.19,489.10 279.03,489.10 279.03,499.50 282.87,499.50 282.87,489.10 286.71,489.10 286.71,499.50 290.54,499.50 290.54,489.10 294.38,489.10 294.38,499.50 298.22,499.50 298.22,489.10 302.06,489.10 302.06,499.50 305.90,499.50 305.90,489.10 309.73,489.10 309.73,499.50 313.57,499.50 313.57,489.10 317.41,489.10 317.41,499.50 321.25,499.50 321.25,489.10 325.09,489.10 325.09,499.50 328.92,499.50 328.92,489.10 332.76,489.10 332.76,499.50 336.60,499.50 336.60,489.10 340.44,489.10 340.44,499.50 344.28,499.50 344.28,489.10 348.11,489.10 348.11,499.50 351.95,499.50 351.95,489.10 355.79,489.10 355.79,499.50 359.63,499.50 359.63,489.10 363.47,489.10 363.47,499.50 367.30,499.50 367.30,489.10 371.14,489.10 371.14,499.50 374.98,499.50 374.98,489.10 378.82,489.10 378.82,499.50 382.66,499.50 382.66,489.10 386.49,489.10 386.49,499.50 390.33,499.50 390.33,489.10 394.17,489.10 394.17,499.50 398.01,499.50 398.01,489.10 401.85,489.10 401.85,499.50 405.68,499.50 405.68,489.10 409.52,489.10 409.52,499.50 413.36,499.50 413.36,489.10 417.20,489.10 417.20,499.50 421.04,499.50 421.04,489.10 424.87,489.10 424.87,499.50 428.71,499.50 428.71,489.10 432.55,489.10 432.55,499.50 436.39,499.50 436.39,489.10 440.23,489.10 440.23,499.50 444.06,499.50 444.06,489.10 447.90,489.10 447.90,499.50 451.74,499.50 451.74,489.10 455.58,489.10 455.58,499.50 459.42,499.50 459.42,489.10 463.25,489.10 463.25,499.50 467.09,499.50 467.09,489.10 470.93,489.10 470.93,499.50 474.77,499.50 474.77,489.10 478.61,489.10 478.61,499.50 482.44,499.50 482.44,489.10 486.28,489.10 486.28,499.50 490.12,499.50 490.12,489.10 493.96,489.10 493.96,499.50 497.80,499.50 497.80,489.10 501.63,489.10 501.63,499.50 505.47,499.50 505.47,489.10 509.31,489.10 509.31,499.50 513.15,499.50 513.15,489.10 516.99,489.10 516.99,499.50 520.82,499.50 520.82,489.10 524.66,489.10 524.66,499.50 528.50,499.50 528.50,489.10 532.34,489.10 532.34,499.50 536.18,499.50 536.18,489.10 540.01,489.10 540.01,499.50 543.85,499.50 543.85,489.10 547.69,489.10 547.69,499.50 551.53,499.50 551.53,489.10 555.37,489.10 555.37,499.50 559.20,499.50 559.20,489.10 563.04,489.10 563.04,499.50 566.88,499.50 566.88,489.10 570.72,489.10 570.72,499.50 574.56,499.50 574.56,489.10 578.39,489.10 578.39,499.50 582.23,499.50 582.23,489.10 586.07,489.10 586.07,499.50 589.91,499.50 589.91,489.10 593.75,489.10 593.75,499.50 597.58,499.50 597.58,489.10 601.42,489.10 601.42,499.50 605.26,499.50 605.26,489.10 609.10,489.10 609.10,499.50 612.94,499.50 612.94,489.10 616.77,489.10 616.77,499.50 620.61,499.50 620.61,489.10 624.45,489.10 624.45,499.50 628.29,499.50 628.29,489.10 632.13,489.10 632.13,499.50 635.96,499.50 635.96,489.10 639.80,489.10 639.80,499.50 643.64,499.50 643.64,489.10 647.48,489.10 647.48,499.50 651.32,499.50 651.32,489.10 655.15,489.10 655.15,499.50 658.99,499.50 658.99,489.10 662.83,489.10 662.83,499.50 666.67,499.50 666.67,489.10 670.51,489.10 670.51,499.50 674.34,499.50 674.34,489.10 678.18,489.10 678.18,499.50 682.02,499.50 682.02,489.10 685.86,489.10 685.86,499.50 689.70,499.50 689.70,489.10 693.53,489.10 693.53,499.50 697.37,499.50 697.37,489.10 701.21,489.10 701.21,499.50 705.05,499.50 705.05,489.10 708.89,489.10 708.89,499.50 712.72,499.50 712.72,489.10 716.56,489.10 716.56,499.50 720.40,499.50 720.40,489.10 724.24,489.10 724.24,499.50 728.08,499.50 728.08,489.10 731.91,489.10 731.91,499.50 735.75,499.50 735.75,489.10 739.59,489.10 739.59,499.50 743.43,499.50 743.43,489.10 747.27,489.10 747.27,499.50 751.10,499.50 751.10,489.10 754.94,489.10 754.94,499.50 758.78,499.50 758.78,489.10 762.62,489.10 762.62,499.50 766.46,499.50 766.46,489.10 770.29,489.10 770.29,499.50 774.13,499.50 774.13,489.10 777.97,489.10 777.97,499.50 781.81,499.50 781.81,489.10 785.65,489.10 785.65,499.50 789.48,499.50 789.48,489.10 793.32,489.10 793.32,499.50 797.16,499.50 797.16,489.10 801.00,489.10 801.00,499.50 804.84,499.50 804.84,489.10 808.67,489.10 808.67,499.50 812.51,499.50 812.51,489.10 816.35,489.10 816.35,499.50 820.19,499.50 820.19,489.10 824.03,489.10 824.03,499.50 827.86,499.50 827.86,489.10 831.70,489.10 831.70,499.50 835.54,499.50 835.54,489.10 839.38,489.10 839.38,499.50 843.22,499.50 843.22,489.10 847.05,489.10 847.05,499.50 850.89,499.50 850.89,489.10 854.73,489.10 854.73,499.50 858.57,499.50 858.57,489.10 862.41,489.10 862.41,499.50 866.24,499.50 866.24,489.10 870.08,489.10 870.08,499.50 873.92,499.50 873.92,489.10 877.76,489.10 877.76,499.50 881.60,499.50 881.60,489.10 885.43,489.10 885.43,499.50 889.27,499.50 889.27,489.10 893.11,489.10 893.11,499.50 896.95,499.50 896.95,489.10 900.79,489.10 900.79,499.50 904.62,499.50 904.62,489.10 908.46,489.10 908.46,499.50 912.30,499.50 912.30,489.10 916.14,489.10 916.14,499.50" fill="none" stroke="#348ABD" stroke-width="1.4" stroke-linejoin="round"/>
</g>
<line x1="138.75" y1="512.9" x2="904.75" y2="512.9" stroke="#988ED5" stroke-width="1.4"/>
<line x1="138.75" y1="525.4" x2="904.75" y2="525.4" stroke="#777777" stroke-width="1.4"/>
<line x1="138.75" y1="526.75" x2="904.75" y2="526.75" stroke="#FBC15E" stroke-width="1.4"/>
<line x1="138.75" y1="551.25" x2="904.75" y2="551.25" stroke="#8EBA42" stroke-width="1.4"/>
<line x1="138.75" y1="564.25" x2="904.75" y2="564.25" stroke="#FFB5B8" stroke-width="1.4"/>
<line x1="138.75" y1="565.25" x2="904.75" y2="565.25" stroke="#E24A33" stroke-width="1.4"/>
<line x1="138.75" y1="578.0" x2="904.75" y2="578.0" stroke="#348ABD" stroke-width="1.4"/>
<line x1="138.75" y1="590.9" x2="904.75" y2="590.9" stroke="#988ED5" stroke-width="1.4"/>
<line x1="138.75" y1="615.25" x2="904.75" y2="615.25" stroke="#777777" stroke-width="1.4"/>
<line x1="138.75" y1="616.5" x2="904.75" y2="616.5" stroke="#FBC15E" stroke-width="1.4"/>
<line x1="138.75" y1="640.9" x2="904.75" y2="640.9" stroke="#8EBA42" stroke-width="1.4"/>
<line x1="138.75" y1="653.6" x2="904.75" y2="653.6" stroke="#FFB5B8" stroke-width="1.4"/>
<line x1="138.75" y1="666.4" x2="904.75" y2="666.4" stroke="#E24A33" stroke-width="1.4"/>
</g>
<line x1="138.5" y1="423.6" x2="138.5" y2="428.7" stroke="#555555" stroke-width="0.75"/>
<line x1="138.5" y1="721.0" x2="138.5" y2="726.8" stroke="#555555" stroke-width="0.75"/>
<line x1="291.5" y1="423.6" x2="291.5" y2="428.7" stroke="#555555" stroke-width="0.75"/>
<line x1="291.5" y1="721.0" x2="291.5" y2="726.8" stroke="#555555" stroke-width="0.75"/>
<line x1="444.5" y1="423.6" x2="444.5" y2="428.7" stroke="#555555" stroke-width="0.75"/>
<line x1="444.5" y1="721.0" x2="444.5" y2="726.8" stroke="#555555" stroke-width="0.75"/>
<line x1="598.5" y1="423.6" x2="598.5" y2="428.7" stroke="#555555" stroke-width="0.75"/>
<line x1="598.5" y1="721.0" x2="598.5" y2="726.8" stroke="#555555" stroke-width="0.75"/>
<line x1="751.5" y1="423.6" x2="751.5" y2="428.7" stroke="#555555" stroke-width="0.75"/>
<line x1="751.5" y1="721.0" x2="751.5" y2="726.8" stroke="#555555" stroke-width="0.75"/>
<text x="138.35" y="742.40" font-size="14.44" text-anchor="middle" fill="#555555" textLength="73.91" lengthAdjust="spacingAndGlyphs" stroke="#555555" stroke-width="0.1">0.0000000</text>
<text x="291.55" y="742.40" font-size="14.44" text-anchor="middle" fill="#555555" textLength="73.91" lengthAdjust="spacingAndGlyphs" stroke="#555555" stroke-width="0.1">0.0000002</text>
<text x="444.75" y="742.40" font-size="14.44" text-anchor="middle" fill="#555555" textLength="73.91" lengthAdjust="spacingAndGlyphs" stroke="#555555" stroke-width="0.1">0.0000004</text>
<text x="597.95" y="742.40" font-size="14.44" text-anchor="middle" fill="#555555" textLength="73.91" lengthAdjust="spacingAndGlyphs" stroke="#555555" stroke-width="0.1">0.0000006</text>
<text x="751.15" y="742.40" font-size="14.44" text-anchor="middle" fill="#555555" textLength="73.91" lengthAdjust="spacingAndGlyphs" stroke="#555555" stroke-width="0.1">0.0000008</text>
<text x="904.35" y="742.40" font-size="14.44" text-anchor="middle" fill="#555555" textLength="73.91" lengthAdjust="spacingAndGlyphs" stroke="#555555" stroke-width="0.1">0.0000010</text>
<text x="521.20" y="765.80" font-size="18.37" text-anchor="middle" fill="#555555" textLength="6.19" lengthAdjust="spacingAndGlyphs" stroke="#555555" stroke-width="0.1">t</text>
<rect x="913.75" y="88.9" width="165" height="399.8" fill="#E5E5E5"/>
<line x1="925" y1="103.40" x2="949.2" y2="103.40" stroke="#E24A33" stroke-width="1.4"/>
<text x="967.00" y="109.10" font-size="18.20" text-anchor="start" fill="#000" textLength="55.29" lengthAdjust="spacingAndGlyphs" stroke="#000" stroke-width="0.1">B_extx</text>
<line x1="925" y1="129.83" x2="949.2" y2="129.83" stroke="#348ABD" stroke-width="1.4"/>
<text x="967.00" y="135.43" font-size="18.20" text-anchor="start" fill="#000" textLength="55.29" lengthAdjust="spacingAndGlyphs" stroke="#000" stroke-width="0.1">B_exty</text>
<line x1="925" y1="156.26" x2="949.2" y2="156.26" stroke="#988ED5" stroke-width="1.4"/>
<text x="967.00" y="161.76" font-size="18.20" text-anchor="start" fill="#000" textLength="54.19" lengthAdjust="spacingAndGlyphs" stroke="#000" stroke-width="0.1">B_extz</text>
<line x1="925" y1="182.69" x2="949.2" y2="182.69" stroke="#777777" stroke-width="1.4"/>
<text x="967.00" y="188.09" font-size="18.20" text-anchor="start" fill="#000" textLength="93.53" lengthAdjust="spacingAndGlyphs" stroke="#000" stroke-width="0.1">m.region1x</text>
<line x1="925" y1="209.12" x2="949.2" y2="209.12" stroke="#FBC15E" stroke-width="1.4"/>
<text x="967.00" y="214.42" font-size="18.20" text-anchor="start" fill="#000" textLength="93.53" lengthAdjust="spacingAndGlyphs" stroke="#000" stroke-width="0.1">m.region2x</text>
<line x1="925" y1="235.55" x2="949.2" y2="235.55" stroke="#8EBA42" stroke-width="1.4"/>
<text x="967.00" y="240.75" font-size="18.20" text-anchor="start" fill="#000" textLength="93.53" lengthAdjust="spacingAndGlyphs" stroke="#000" stroke-width="0.1">m.region3x</text>
<line x1="925" y1="261.98" x2="949.2" y2="261.98" stroke="#FFB5B8" stroke-width="1.4"/>
<text x="967.00" y="267.08" font-size="18.20" text-anchor="start" fill="#000" textLength="93.53" lengthAdjust="spacingAndGlyphs" stroke="#000" stroke-width="0.1">m.region4x</text>
<line x1="925" y1="288.41" x2="949.2" y2="288.41" stroke="#E24A33" stroke-width="1.4"/>
<text x="967.00" y="293.41" font-size="18.20" text-anchor="start" fill="#000" textLength="93.53" lengthAdjust="spacingAndGlyphs" stroke="#000" stroke-width="0.1">m.region5x</text>
<line x1="925" y1="314.84" x2="949.2" y2="314.84" stroke="#348ABD" stroke-width="1.4"/>
<text x="967.00" y="319.74" font-size="18.20" text-anchor="start" fill="#000" textLength="93.53" lengthAdjust="spacingAndGlyphs" stroke="#000" stroke-width="0.1">m.region6x</text>
<line x1="925" y1="341.27" x2="949.2" y2="341.27" stroke="#988ED5" stroke-width="1.4"/>
<text x="967.00" y="346.07" font-size="18.20" text-anchor="start" fill="#000" textLength="93.53" lengthAdjust="spacingAndGlyphs" stroke="#000" stroke-width="0.1">m.region7y</text>
<line x1="925" y1="367.70" x2="949.2" y2="367.70" stroke="#777777" stroke-width="1.4"/>
<text x="967.00" y="372.40" font-size="18.20" text-anchor="start" fill="#000" textLength="93.53" lengthAdjust="spacingAndGlyphs" stroke="#000" stroke-width="0.1">m.region8y</text>
<line x1="925" y1="394.13" x2="949.2" y2="394.13" stroke="#FBC15E" stroke-width="1.4"/>
<text x="967.00" y="398.73" font-size="18.20" text-anchor="start" fill="#000" textLength="93.53" lengthAdjust="spacingAndGlyphs" stroke="#000" stroke-width="0.1">m.region9y</text>
<line x1="925" y1="420.56" x2="949.2" y2="420.56" stroke="#8EBA42" stroke-width="1.4"/>
<text x="967.00" y="425.06" font-size="18.20" text-anchor="start" fill="#000" textLength="104.00" lengthAdjust="spacingAndGlyphs" stroke="#000" stroke-width="0.1">m.region10y</text>
<line x1="925" y1="446.99" x2="949.2" y2="446.99" stroke="#FFB5B8" stroke-width="1.4"/>
<text x="967.00" y="451.39" font-size="18.20" text-anchor="start" fill="#000" textLength="104.00" lengthAdjust="spacingAndGlyphs" stroke="#000" stroke-width="0.1">m.region11y</text>
<line x1="925" y1="473.42" x2="949.2" y2="473.42" stroke="#E24A33" stroke-width="1.4"/>
<text x="967.00" y="477.72" font-size="18.20" text-anchor="start" fill="#000" textLength="104.00" lengthAdjust="spacingAndGlyphs" stroke="#000" stroke-width="0.1">m.region12y</text>
</svg>
</body></html>
